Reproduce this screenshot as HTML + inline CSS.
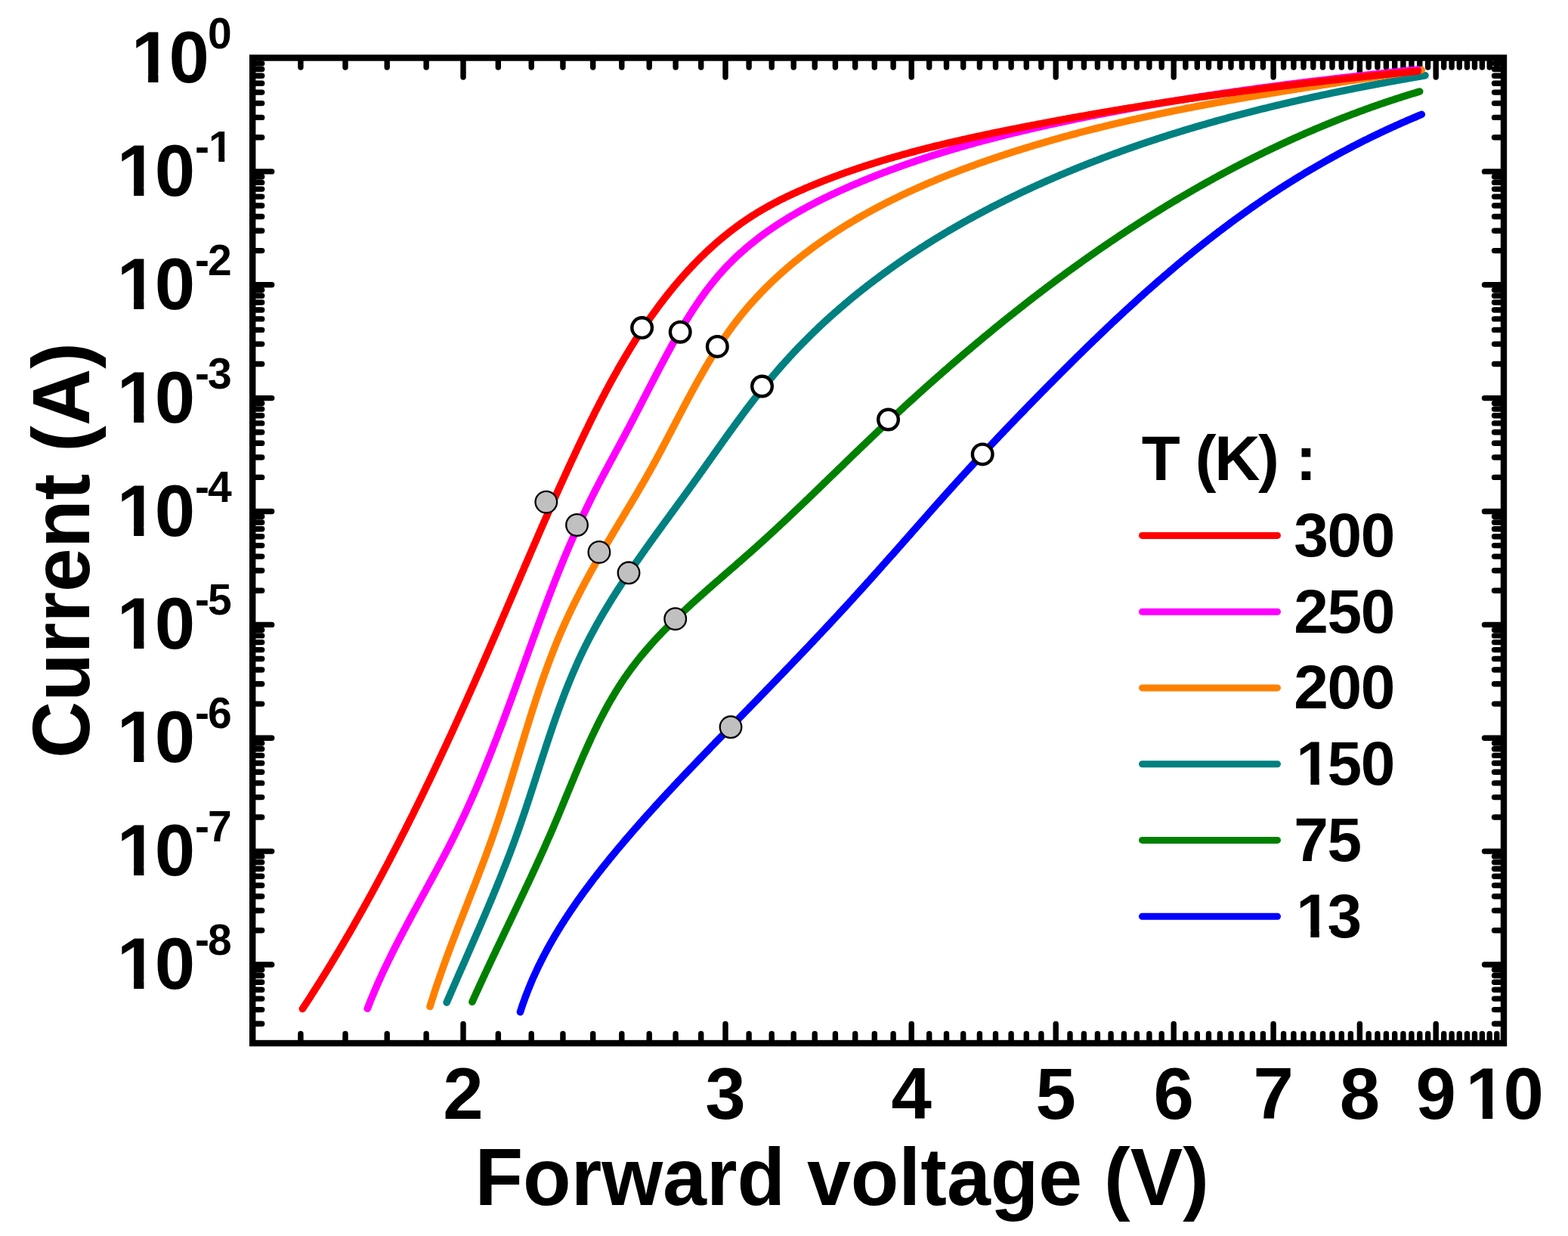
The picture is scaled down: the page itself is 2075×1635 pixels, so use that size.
<!DOCTYPE html>
<html><head><meta charset="utf-8"><title>Forward voltage vs current</title>
<style>html,body{margin:0;padding:0;background:#fff;overflow:hidden}svg{display:block}</style>
</head><body>
<svg xmlns="http://www.w3.org/2000/svg" width="2075" height="1635" viewBox="0 0 2075 1635">
<defs><clipPath id="c0"><path clip-rule="evenodd" d="M-26.3 -191.0H523.6V209.0H-26.3ZM170.7 97.0H196.1V112.0H170.7ZM209.4 97.0H227.5V112.0H209.4Z"/></clipPath><clipPath id="c1"><path clip-rule="evenodd" d="M-45.3 -41.1H504.7V358.9H-45.3ZM151.7 246.9H177.1V261.9H151.7ZM190.4 246.9H208.5V261.9H190.4Z"/></clipPath><clipPath id="c2"><path clip-rule="evenodd" d="M58.0 -86.1H576.0V313.9H58.0ZM273.0 206.7H289.3V216.9H273.0ZM297.2 206.7H308.0V216.9H297.2Z"/></clipPath><clipPath id="c3"><path clip-rule="evenodd" d="M-45.3 108.7H504.7V508.7H-45.3ZM151.7 396.7H177.1V411.7H151.7ZM190.4 396.7H208.5V411.7H190.4Z"/></clipPath><clipPath id="c4"><path clip-rule="evenodd" d="M-45.3 258.6H504.7V658.6H-45.3ZM151.7 546.6H177.1V561.6H151.7ZM190.4 546.6H208.5V561.6H190.4Z"/></clipPath><clipPath id="c5"><path clip-rule="evenodd" d="M-45.3 408.5H504.7V808.5H-45.3ZM151.7 696.5H177.1V711.5H151.7ZM190.4 696.5H208.5V711.5H190.4Z"/></clipPath><clipPath id="c6"><path clip-rule="evenodd" d="M-45.3 558.4H504.7V958.4H-45.3ZM151.7 846.4H177.1V861.4H151.7ZM190.4 846.4H208.5V861.4H190.4Z"/></clipPath><clipPath id="c7"><path clip-rule="evenodd" d="M-45.3 708.2H504.7V1108.2H-45.3ZM151.7 996.2H177.1V1011.2H151.7ZM190.4 996.2H208.5V1011.2H190.4Z"/></clipPath><clipPath id="c8"><path clip-rule="evenodd" d="M-45.3 858.1H504.7V1258.1H-45.3ZM151.7 1146.1H177.1V1161.1H151.7ZM190.4 1146.1H208.5V1161.1H190.4Z"/></clipPath><clipPath id="c9"><path clip-rule="evenodd" d="M-45.3 1008.0H504.7V1408.0H-45.3ZM151.7 1296.0H177.1V1311.0H151.7ZM190.4 1296.0H208.5V1311.0H190.4Z"/></clipPath><clipPath id="c10"><path clip-rule="evenodd" d="M1739.5 1180.0H2289.4V1580.0H1739.5ZM1936.5 1468.0H1961.9V1483.0H1936.5ZM1975.2 1468.0H1993.2V1483.0H1975.2Z"/></clipPath><clipPath id="c11"><path clip-rule="evenodd" d="M1515.3 738.0H2100.7V1138.0H1515.3ZM1712.3 1027.7H1734.4V1041.0H1712.3ZM1745.8 1027.7H1761.2V1041.0H1745.8Z"/></clipPath><clipPath id="c12"><path clip-rule="evenodd" d="M1515.3 939.5H2056.5V1339.5H1515.3ZM1712.3 1229.2H1734.4V1242.5H1712.3ZM1745.8 1229.2H1761.2V1242.5H1745.8Z"/></clipPath></defs>
<rect width="2075" height="1635" fill="#fff"/>
<path fill="none" stroke="#000" stroke-width="7.4" stroke-linecap="round" d="M397.9 1380.0V1367.5M397.9 76.5V89.0M457.0 1380.0V1367.5M457.0 76.5V89.0M512.2 1380.0V1367.5M512.2 76.5V89.0M564.1 1380.0V1367.5M564.1 76.5V89.0M613.0 1380.0V1354.5M613.0 76.5V102.0M659.3 1380.0V1367.5M659.3 76.5V89.0M703.2 1380.0V1367.5M703.2 76.5V89.0M744.9 1380.0V1367.5M744.9 76.5V89.0M784.7 1380.0V1367.5M784.7 76.5V89.0M822.8 1380.0V1367.5M822.8 76.5V89.0M859.2 1380.0V1367.5M859.2 76.5V89.0M894.1 1380.0V1367.5M894.1 76.5V89.0M927.7 1380.0V1367.5M927.7 76.5V89.0M960.0 1380.0V1354.5M960.0 76.5V102.0M991.1 1380.0V1367.5M991.1 76.5V89.0M1021.2 1380.0V1367.5M1021.2 76.5V89.0M1050.2 1380.0V1367.5M1050.2 76.5V89.0M1078.2 1380.0V1367.5M1078.2 76.5V89.0M1105.4 1380.0V1367.5M1105.4 76.5V89.0M1131.7 1380.0V1367.5M1131.7 76.5V89.0M1157.3 1380.0V1367.5M1157.3 76.5V89.0M1182.1 1380.0V1367.5M1182.1 76.5V89.0M1206.2 1380.0V1354.5M1206.2 76.5V102.0M1229.7 1380.0V1367.5M1229.7 76.5V89.0M1252.5 1380.0V1367.5M1252.5 76.5V89.0M1274.7 1380.0V1367.5M1274.7 76.5V89.0M1296.4 1380.0V1367.5M1296.4 76.5V89.0M1317.5 1380.0V1367.5M1317.5 76.5V89.0M1338.1 1380.0V1367.5M1338.1 76.5V89.0M1358.3 1380.0V1367.5M1358.3 76.5V89.0M1377.9 1380.0V1367.5M1377.9 76.5V89.0M1397.2 1380.0V1354.5M1397.2 76.5V102.0M1416.0 1380.0V1367.5M1416.0 76.5V89.0M1434.4 1380.0V1367.5M1434.4 76.5V89.0M1452.4 1380.0V1367.5M1452.4 76.5V89.0M1470.1 1380.0V1367.5M1470.1 76.5V89.0M1487.4 1380.0V1367.5M1487.4 76.5V89.0M1504.3 1380.0V1367.5M1504.3 76.5V89.0M1520.9 1380.0V1367.5M1520.9 76.5V89.0M1537.2 1380.0V1367.5M1537.2 76.5V89.0M1553.2 1380.0V1354.5M1553.2 76.5V102.0M1568.9 1380.0V1367.5M1568.9 76.5V89.0M1584.3 1380.0V1367.5M1584.3 76.5V89.0M1599.5 1380.0V1367.5M1599.5 76.5V89.0M1614.4 1380.0V1367.5M1614.4 76.5V89.0M1629.0 1380.0V1367.5M1629.0 76.5V89.0M1643.4 1380.0V1367.5M1643.4 76.5V89.0M1657.5 1380.0V1367.5M1657.5 76.5V89.0M1671.4 1380.0V1367.5M1671.4 76.5V89.0M1685.1 1380.0V1354.5M1685.1 76.5V102.0M1698.6 1380.0V1367.5M1698.6 76.5V89.0M1711.9 1380.0V1367.5M1711.9 76.5V89.0M1725.0 1380.0V1367.5M1725.0 76.5V89.0M1737.8 1380.0V1367.5M1737.8 76.5V89.0M1750.5 1380.0V1367.5M1750.5 76.5V89.0M1763.0 1380.0V1367.5M1763.0 76.5V89.0M1775.3 1380.0V1367.5M1775.3 76.5V89.0M1787.4 1380.0V1367.5M1787.4 76.5V89.0M1799.4 1380.0V1354.5M1799.4 76.5V102.0M1811.2 1380.0V1367.5M1811.2 76.5V89.0M1822.9 1380.0V1367.5M1822.9 76.5V89.0M1834.4 1380.0V1367.5M1834.4 76.5V89.0M1845.7 1380.0V1367.5M1845.7 76.5V89.0M1856.9 1380.0V1367.5M1856.9 76.5V89.0M1867.9 1380.0V1367.5M1867.9 76.5V89.0M1878.8 1380.0V1367.5M1878.8 76.5V89.0M1889.6 1380.0V1367.5M1889.6 76.5V89.0M1900.2 1380.0V1354.5M1900.2 76.5V102.0M1910.7 1380.0V1367.5M1910.7 76.5V89.0M1921.1 1380.0V1367.5M1921.1 76.5V89.0M1931.3 1380.0V1367.5M1931.3 76.5V89.0M1941.5 1380.0V1367.5M1941.5 76.5V89.0M1951.5 1380.0V1367.5M1951.5 76.5V89.0M1961.4 1380.0V1367.5M1961.4 76.5V89.0M1971.2 1380.0V1367.5M1971.2 76.5V89.0M1980.8 1380.0V1367.5M1980.8 76.5V89.0M334.2 1354.3H346.7M1990.0 1354.3H1977.5M334.2 1335.6H346.7M1990.0 1335.6H1977.5M334.2 1321.1H346.7M1990.0 1321.1H1977.5M334.2 1309.2H346.7M1990.0 1309.2H1977.5M334.2 1299.2H346.7M1990.0 1299.2H1977.5M334.2 1290.5H346.7M1990.0 1290.5H1977.5M334.2 1282.8H346.7M1990.0 1282.8H1977.5M334.2 1276.0H359.7M1990.0 1276.0H1964.5M334.2 1230.8H346.7M1990.0 1230.8H1977.5M334.2 1204.5H346.7M1990.0 1204.5H1977.5M334.2 1185.7H346.7M1990.0 1185.7H1977.5M334.2 1171.2H346.7M1990.0 1171.2H1977.5M334.2 1159.3H346.7M1990.0 1159.3H1977.5M334.2 1149.3H346.7M1990.0 1149.3H1977.5M334.2 1140.6H346.7M1990.0 1140.6H1977.5M334.2 1132.9H346.7M1990.0 1132.9H1977.5M334.2 1126.1H359.7M1990.0 1126.1H1964.5M334.2 1081.0H346.7M1990.0 1081.0H1977.5M334.2 1054.6H346.7M1990.0 1054.6H1977.5M334.2 1035.9H346.7M1990.0 1035.9H1977.5M334.2 1021.3H346.7M1990.0 1021.3H1977.5M334.2 1009.5H346.7M1990.0 1009.5H1977.5M334.2 999.4H346.7M1990.0 999.4H1977.5M334.2 990.7H346.7M1990.0 990.7H1977.5M334.2 983.1H346.7M1990.0 983.1H1977.5M334.2 976.2H359.7M1990.0 976.2H1964.5M334.2 931.1H346.7M1990.0 931.1H1977.5M334.2 904.7H346.7M1990.0 904.7H1977.5M334.2 886.0H346.7M1990.0 886.0H1977.5M334.2 871.5H346.7M1990.0 871.5H1977.5M334.2 859.6H346.7M1990.0 859.6H1977.5M334.2 849.6H346.7M1990.0 849.6H1977.5M334.2 840.9H346.7M1990.0 840.9H1977.5M334.2 833.2H346.7M1990.0 833.2H1977.5M334.2 826.4H359.7M1990.0 826.4H1964.5M334.2 781.2H346.7M1990.0 781.2H1977.5M334.2 754.8H346.7M1990.0 754.8H1977.5M334.2 736.1H346.7M1990.0 736.1H1977.5M334.2 721.6H346.7M1990.0 721.6H1977.5M334.2 709.7H346.7M1990.0 709.7H1977.5M334.2 699.7H346.7M1990.0 699.7H1977.5M334.2 691.0H346.7M1990.0 691.0H1977.5M334.2 683.3H346.7M1990.0 683.3H1977.5M334.2 676.5H359.7M1990.0 676.5H1964.5M334.2 631.4H346.7M1990.0 631.4H1977.5M334.2 605.0H346.7M1990.0 605.0H1977.5M334.2 586.2H346.7M1990.0 586.2H1977.5M334.2 571.7H346.7M1990.0 571.7H1977.5M334.2 559.9H346.7M1990.0 559.9H1977.5M334.2 549.8H346.7M1990.0 549.8H1977.5M334.2 541.1H346.7M1990.0 541.1H1977.5M334.2 533.5H346.7M1990.0 533.5H1977.5M334.2 526.6H359.7M1990.0 526.6H1964.5M334.2 481.5H346.7M1990.0 481.5H1977.5M334.2 455.1H346.7M1990.0 455.1H1977.5M334.2 436.4H346.7M1990.0 436.4H1977.5M334.2 421.9H346.7M1990.0 421.9H1977.5M334.2 410.0H346.7M1990.0 410.0H1977.5M334.2 400.0H346.7M1990.0 400.0H1977.5M334.2 391.3H346.7M1990.0 391.3H1977.5M334.2 383.6H346.7M1990.0 383.6H1977.5M334.2 376.7H359.7M1990.0 376.7H1964.5M334.2 331.6H346.7M1990.0 331.6H1977.5M334.2 305.2H346.7M1990.0 305.2H1977.5M334.2 286.5H346.7M1990.0 286.5H1977.5M334.2 272.0H346.7M1990.0 272.0H1977.5M334.2 260.1H346.7M1990.0 260.1H1977.5M334.2 250.1H346.7M1990.0 250.1H1977.5M334.2 241.4H346.7M1990.0 241.4H1977.5M334.2 233.7H346.7M1990.0 233.7H1977.5M334.2 226.9H359.7M1990.0 226.9H1964.5M334.2 181.8H346.7M1990.0 181.8H1977.5M334.2 155.4H346.7M1990.0 155.4H1977.5M334.2 136.6H346.7M1990.0 136.6H1977.5M334.2 122.1H346.7M1990.0 122.1H1977.5M334.2 110.2H346.7M1990.0 110.2H1977.5M334.2 100.2H346.7M1990.0 100.2H1977.5M334.2 91.5H346.7M1990.0 91.5H1977.5M334.2 83.9H346.7M1990.0 83.9H1977.5"/>
<rect x="334.2" y="76.5" width="1655.8" height="1303.5" fill="none" stroke="#000" stroke-width="8.4" stroke-linejoin="miter"/>
<g fill="none" stroke-width="9.6" stroke-linecap="round" stroke-linejoin="round">
<path stroke="#0000FF" d="M688.5 1338.7L689.1 1336.7L689.7 1334.8L690.3 1332.9L691.0 1330.9L691.6 1329.0L692.3 1327.1L693.0 1325.2L693.7 1323.3L694.4 1321.4L695.0 1319.5L695.8 1317.6L696.5 1315.7L697.2 1313.8L697.9 1311.9L698.7 1310.1L699.4 1308.2L700.2 1306.3L700.9 1304.5L701.7 1302.6L702.5 1300.8L703.2 1298.9L704.0 1297.1L704.8 1295.2L705.6 1293.4L706.4 1291.6L707.3 1289.7L708.1 1287.9L708.9 1286.1L709.8 1284.3L710.6 1282.5L711.5 1280.7L712.3 1278.8L713.2 1277.0L714.1 1275.3L715.0 1273.5L715.9 1271.7L716.8 1269.9L717.7 1268.1L718.6 1266.3L719.5 1264.6L720.4 1262.8L721.4 1261.0L722.3 1259.3L723.2 1257.5L724.2 1255.8L725.1 1254.0L726.1 1252.3L727.1 1250.5L728.0 1248.8L729.0 1247.1L730.0 1245.3L731.0 1243.6L732.0 1241.9L733.0 1240.2L734.0 1238.4L735.0 1236.7L736.0 1235.0L737.1 1233.3L738.1 1231.6L739.1 1229.9L740.2 1228.2L741.2 1226.5L742.3 1224.8L743.3 1223.1L744.4 1221.4L745.5 1219.8L746.6 1218.1L747.6 1216.4L748.7 1214.7L749.8 1213.1L750.9 1211.4L752.0 1209.7L753.1 1208.1L754.2 1206.4L755.3 1204.8L756.4 1203.1L757.6 1201.5L758.7 1199.8L759.8 1198.2L761.0 1196.5L762.1 1194.9L763.2 1193.3L764.4 1191.6L765.5 1190.0L766.7 1188.4L767.9 1186.8L769.0 1185.1L770.2 1183.5L771.4 1181.9L772.5 1180.3L773.7 1178.7L774.9 1177.1L776.1 1175.5L777.3 1173.9L778.5 1172.3L779.7 1170.7L780.9 1169.1L782.1 1167.5L783.3 1165.9L784.5 1164.3L785.7 1162.7L786.9 1161.1L788.2 1159.6L789.4 1158.0L790.6 1156.4L791.9 1154.8L793.1 1153.3L794.3 1151.7L795.6 1150.1L796.8 1148.5L798.0 1147.0L799.3 1145.4L800.5 1143.9L801.8 1142.3L803.1 1140.7L804.3 1139.2L805.6 1137.6L806.8 1136.1L808.1 1134.5L809.4 1133.0L810.6 1131.4L811.9 1129.9L813.2 1128.4L814.5 1126.8L815.7 1125.3L817.0 1123.7L818.3 1122.2L819.6 1120.7L820.9 1119.1L822.2 1117.6L823.5 1116.1L824.8 1114.5L826.0 1113.0L827.3 1111.5L828.6 1110.0L829.9 1108.5L831.3 1106.9L832.6 1105.4L833.9 1103.9L835.2 1102.4L836.5 1100.9L837.8 1099.4L839.1 1097.8L840.4 1096.3L841.8 1094.8L843.1 1093.3L844.4 1091.8L845.7 1090.3L847.0 1088.8L848.4 1087.3L849.7 1085.8L851.0 1084.3L852.4 1082.8L853.7 1081.3L855.0 1079.8L856.4 1078.3L857.7 1076.8L859.1 1075.4L860.4 1073.9L861.7 1072.4L863.1 1070.9L864.4 1069.4L865.8 1067.9L867.1 1066.4L868.5 1065.0L869.8 1063.5L871.2 1062.0L872.5 1060.5L873.9 1059.0L875.2 1057.6L876.6 1056.1L878.0 1054.6L879.3 1053.1L880.7 1051.7L882.1 1050.2L883.4 1048.7L884.8 1047.3L886.2 1045.8L887.5 1044.3L888.9 1042.9L890.3 1041.4L891.6 1039.9L893.0 1038.5L894.4 1037.0L895.8 1035.5L897.1 1034.1L898.5 1032.6L899.9 1031.2L901.3 1029.7L902.6 1028.3L904.0 1026.8L905.4 1025.3L906.8 1023.9L908.2 1022.4L909.5 1021.0L910.9 1019.5L912.3 1018.1L913.7 1016.6L915.1 1015.2L916.5 1013.7L917.9 1012.3L919.3 1010.8L920.6 1009.4L922.0 1007.9L923.4 1006.5L924.8 1005.0L926.2 1003.6L927.6 1002.1L929.0 1000.7L930.4 999.2L931.8 997.8L933.2 996.3L934.6 994.9L936.0 993.5L937.4 992.0L938.8 990.6L940.1 989.1L941.5 987.7L942.9 986.2L944.3 984.8L945.7 983.4L947.1 981.9L948.5 980.5L949.9 979.0L951.3 977.6L952.7 976.2L954.1 974.7L955.5 973.3L956.9 971.9L958.3 970.4L959.7 969.0L961.1 967.5L962.5 966.1L963.9 964.7L965.3 963.2L966.7 961.8L968.1 960.3L969.5 958.9L970.9 957.5L972.3 956.0L973.7 954.6L975.1 953.2L976.5 951.7L977.9 950.3L979.3 948.8L980.7 947.4L982.1 946.0L983.5 944.5L984.9 943.1L986.3 941.7L987.7 940.2L989.1 938.8L990.5 937.4L991.9 935.9L993.3 934.5L994.7 933.0L996.1 931.6L997.5 930.2L998.9 928.7L1000.3 927.3L1001.7 925.9L1003.1 924.4L1004.5 923.0L1005.9 921.5L1007.2 920.1L1008.6 918.7L1010.0 917.2L1011.4 915.8L1012.8 914.4L1014.2 912.9L1015.6 911.5L1017.0 910.0L1018.4 908.6L1019.8 907.2L1021.2 905.7L1022.6 904.3L1024.0 902.8L1025.4 901.4L1026.8 900.0L1028.1 898.5L1029.5 897.1L1030.9 895.6L1032.3 894.2L1033.7 892.8L1035.1 891.3L1036.5 889.9L1037.9 888.4L1039.3 887.0L1040.6 885.5L1042.0 884.1L1043.4 882.7L1044.8 881.2L1046.2 879.8L1047.6 878.3L1049.0 876.9L1050.3 875.4L1051.7 874.0L1053.1 872.5L1054.5 871.1L1055.9 869.7L1057.3 868.2L1058.6 866.8L1060.0 865.3L1061.4 863.9L1062.8 862.4L1064.2 861.0L1065.5 859.5L1066.9 858.1L1068.3 856.6L1069.7 855.2L1071.1 853.7L1072.4 852.3L1073.8 850.8L1075.2 849.4L1076.6 847.9L1077.9 846.5L1079.3 845.0L1080.7 843.5L1082.1 842.1L1083.4 840.6L1084.8 839.2L1086.2 837.7L1087.5 836.3L1088.9 834.8L1090.3 833.3L1091.6 831.9L1093.0 830.4L1094.4 829.0L1095.7 827.5L1097.1 826.1L1098.5 824.6L1099.8 823.1L1101.2 821.7L1102.6 820.2L1103.9 818.7L1105.3 817.3L1106.6 815.8L1108.0 814.3L1109.4 812.9L1110.7 811.4L1112.1 809.9L1113.4 808.5L1114.8 807.0L1116.1 805.5L1117.5 804.1L1118.9 802.6L1120.2 801.1L1121.6 799.6L1122.9 798.2L1124.3 796.7L1125.6 795.2L1127.0 793.7L1128.3 792.3L1129.6 790.8L1131.0 789.3L1132.3 787.8L1133.7 786.4L1135.0 784.9L1136.4 783.4L1137.7 781.9L1139.1 780.4L1140.4 779.0L1141.7 777.5L1143.1 776.0L1144.4 774.5L1145.8 773.0L1147.1 771.5L1148.4 770.0L1149.8 768.6L1151.1 767.1L1152.4 765.6L1153.8 764.1L1155.1 762.6L1156.4 761.1L1157.8 759.6L1159.1 758.1L1160.4 756.7L1161.8 755.2L1163.1 753.7L1164.4 752.2L1165.8 750.7L1167.1 749.2L1168.4 747.7L1169.7 746.2L1171.1 744.7L1172.4 743.2L1173.7 741.7L1175.1 740.2L1176.4 738.7L1177.7 737.2L1179.0 735.8L1180.4 734.3L1181.7 732.8L1183.0 731.3L1184.3 729.8L1185.7 728.3L1187.0 726.8L1188.3 725.3L1189.6 723.8L1191.0 722.3L1192.3 720.8L1193.6 719.3L1194.9 717.8L1196.2 716.3L1197.6 714.8L1198.9 713.3L1200.2 711.8L1201.5 710.3L1202.9 708.8L1204.2 707.3L1205.5 705.8L1206.8 704.3L1208.1 702.8L1209.5 701.3L1210.8 699.8L1212.1 698.3L1213.4 696.8L1214.8 695.3L1216.1 693.8L1217.4 692.3L1218.7 690.8L1220.0 689.3L1221.4 687.9L1222.7 686.4L1224.0 684.9L1225.3 683.4L1226.7 681.9L1228.0 680.4L1229.3 678.9L1230.6 677.4L1232.0 675.9L1233.3 674.4L1234.6 672.9L1235.9 671.4L1237.3 669.9L1238.6 668.4L1239.9 666.9L1241.2 665.4L1242.6 664.0L1243.9 662.5L1245.2 661.0L1246.6 659.5L1247.9 658.0L1249.2 656.5L1250.5 655.0L1251.9 653.5L1253.2 652.0L1254.5 650.6L1255.9 649.1L1257.2 647.6L1258.5 646.1L1259.9 644.6L1261.2 643.1L1262.6 641.7L1263.9 640.2L1265.2 638.7L1266.6 637.2L1267.9 635.7L1269.3 634.3L1270.6 632.8L1271.9 631.3L1273.3 629.8L1274.6 628.4L1276.0 626.9L1277.3 625.4L1278.7 623.9L1280.0 622.5L1281.4 621.0L1282.7 619.5L1284.1 618.1L1285.4 616.6L1286.8 615.1L1288.1 613.7L1289.5 612.2L1290.8 610.7L1292.2 609.3L1293.6 607.8L1294.9 606.3L1296.3 604.9L1297.6 603.4L1299.0 601.9L1300.4 600.5L1301.7 599.0L1303.1 597.6L1304.4 596.1L1305.8 594.6L1307.2 593.2L1308.5 591.7L1309.9 590.3L1311.3 588.8L1312.6 587.4L1314.0 585.9L1315.4 584.5L1316.8 583.0L1318.1 581.6L1319.5 580.1L1320.9 578.7L1322.2 577.2L1323.6 575.8L1325.0 574.3L1326.4 572.9L1327.8 571.4L1329.1 570.0L1330.5 568.5L1331.9 567.1L1333.3 565.6L1334.6 564.2L1336.0 562.8L1337.4 561.3L1338.8 559.9L1340.2 558.4L1341.6 557.0L1343.0 555.6L1344.3 554.1L1345.7 552.7L1347.1 551.2L1348.5 549.8L1349.9 548.4L1351.3 546.9L1352.7 545.5L1354.1 544.1L1355.5 542.6L1356.8 541.2L1358.2 539.8L1359.6 538.3L1361.0 536.9L1362.4 535.5L1363.8 534.0L1365.2 532.6L1366.6 531.2L1368.0 529.7L1369.4 528.3L1370.8 526.9L1372.2 525.5L1373.6 524.0L1375.0 522.6L1376.4 521.2L1377.8 519.8L1379.2 518.3L1380.6 516.9L1382.0 515.5L1383.4 514.1L1384.8 512.6L1386.2 511.2L1387.6 509.8L1389.0 508.4L1390.4 506.9L1391.9 505.5L1393.3 504.1L1394.7 502.7L1396.1 501.3L1397.5 499.8L1398.9 498.4L1400.3 497.0L1401.7 495.6L1403.1 494.2L1404.6 492.8L1406.0 491.3L1407.4 489.9L1408.8 488.5L1410.2 487.1L1411.6 485.7L1413.1 484.3L1414.5 482.9L1415.9 481.5L1417.3 480.0L1418.7 478.6L1420.2 477.2L1421.6 475.8L1423.0 474.4L1424.4 473.0L1425.9 471.6L1427.3 470.2L1428.7 468.8L1430.1 467.4L1431.6 466.0L1433.0 464.6L1434.4 463.2L1435.9 461.8L1437.3 460.4L1438.7 459.0L1440.2 457.6L1441.6 456.2L1443.0 454.8L1444.5 453.4L1445.9 452.0L1447.3 450.6L1448.8 449.2L1450.2 447.9L1451.7 446.5L1453.1 445.1L1454.6 443.7L1456.0 442.3L1457.5 440.9L1458.9 439.5L1460.3 438.2L1461.8 436.8L1463.2 435.4L1464.7 434.0L1466.2 432.6L1467.6 431.3L1469.1 429.9L1470.5 428.5L1472.0 427.1L1473.4 425.8L1474.9 424.4L1476.3 423.0L1477.8 421.7L1479.3 420.3L1480.7 418.9L1482.2 417.6L1483.7 416.2L1485.1 414.8L1486.6 413.5L1488.1 412.1L1489.5 410.8L1491.0 409.4L1492.5 408.1L1494.0 406.7L1495.4 405.4L1496.9 404.0L1498.4 402.7L1499.9 401.3L1501.4 400.0L1502.8 398.6L1504.3 397.3L1505.8 395.9L1507.3 394.6L1508.8 393.2L1510.3 391.9L1511.8 390.6L1513.2 389.2L1514.7 387.9L1516.2 386.6L1517.7 385.2L1519.2 383.9L1520.7 382.6L1522.2 381.3L1523.7 379.9L1525.2 378.6L1526.7 377.3L1528.2 376.0L1529.7 374.7L1531.2 373.3L1532.7 372.0L1534.3 370.7L1535.8 369.4L1537.3 368.1L1538.8 366.8L1540.3 365.5L1541.8 364.2L1543.4 362.9L1544.9 361.6L1546.4 360.3L1547.9 359.0L1549.4 357.7L1551.0 356.4L1552.5 355.1L1554.0 353.8L1555.6 352.5L1557.1 351.2L1558.6 349.9L1560.2 348.7L1561.7 347.4L1563.2 346.1L1564.8 344.8L1566.3 343.5L1567.9 342.3L1569.4 341.0L1570.9 339.7L1572.5 338.5L1574.0 337.2L1575.6 335.9L1577.1 334.7L1578.7 333.4L1580.3 332.1L1581.8 330.9L1583.4 329.6L1584.9 328.4L1586.5 327.1L1588.1 325.9L1589.6 324.6L1591.2 323.4L1592.8 322.2L1594.3 320.9L1595.9 319.7L1597.5 318.5L1599.0 317.2L1600.6 316.0L1602.2 314.8L1603.8 313.5L1605.4 312.3L1606.9 311.1L1608.5 309.9L1610.1 308.7L1611.7 307.4L1613.3 306.2L1614.9 305.0L1616.5 303.8L1618.1 302.6L1619.7 301.4L1621.3 300.2L1622.9 299.0L1624.5 297.8L1626.1 296.6L1627.7 295.4L1629.3 294.2L1630.9 293.0L1632.5 291.9L1634.1 290.7L1635.7 289.5L1637.3 288.3L1639.0 287.1L1640.6 286.0L1642.2 284.8L1643.8 283.6L1645.4 282.5L1647.1 281.3L1648.7 280.1L1650.3 279.0L1652.0 277.8L1653.6 276.7L1655.2 275.5L1656.9 274.4L1658.5 273.2L1660.1 272.1L1661.8 271.0L1663.4 269.8L1665.1 268.7L1666.7 267.6L1668.4 266.4L1670.0 265.3L1671.7 264.2L1673.3 263.1L1675.0 261.9L1676.7 260.8L1678.3 259.7L1680.0 258.6L1681.6 257.5L1683.3 256.4L1685.0 255.3L1686.6 254.2L1688.3 253.1L1690.0 252.0L1691.7 250.9L1693.4 249.8L1695.0 248.7L1696.7 247.7L1698.4 246.6L1700.1 245.5L1701.8 244.4L1703.5 243.4L1705.2 242.3L1706.9 241.2L1708.5 240.2L1710.2 239.1L1711.9 238.1L1713.6 237.0L1715.4 236.0L1717.1 234.9L1718.8 233.9L1720.5 232.8L1722.2 231.8L1723.9 230.8L1725.6 229.7L1727.3 228.7L1729.0 227.7L1730.8 226.6L1732.5 225.6L1734.2 224.6L1735.9 223.6L1737.7 222.6L1739.4 221.6L1741.1 220.6L1742.9 219.6L1744.6 218.6L1746.3 217.6L1748.1 216.6L1749.8 215.6L1751.6 214.6L1753.3 213.6L1755.1 212.6L1756.8 211.6L1758.6 210.7L1760.3 209.7L1762.1 208.7L1763.8 207.8L1765.6 206.8L1767.3 205.8L1769.1 204.9L1770.8 203.9L1772.6 203.0L1774.4 202.0L1776.1 201.1L1777.9 200.1L1779.7 199.2L1781.5 198.3L1783.2 197.3L1785.0 196.4L1786.8 195.5L1788.6 194.5L1790.3 193.6L1792.1 192.7L1793.9 191.8L1795.7 190.9L1797.5 190.0L1799.3 189.0L1801.1 188.1L1802.8 187.2L1804.6 186.3L1806.4 185.4L1808.2 184.6L1810.0 183.7L1811.8 182.8L1813.6 181.9L1815.4 181.0L1817.2 180.1L1819.0 179.3L1820.9 178.4L1822.7 177.5L1824.5 176.7L1826.3 175.8L1828.1 174.9L1829.9 174.1L1831.7 173.2L1833.6 172.4L1835.4 171.5L1837.2 170.7L1839.0 169.9L1840.8 169.0L1842.7 168.2L1844.5 167.4L1846.3 166.5L1848.2 165.7L1850.0 164.9L1851.8 164.1L1853.7 163.2L1855.5 162.4L1857.3 161.6L1859.2 160.8L1861.0 160.0L1862.8 159.2L1864.7 158.4L1866.5 157.6L1868.4 156.8L1870.2 156.0L1872.1 155.3L1873.9 154.5L1875.8 153.7L1877.6 152.9L1879.5 152.1L1881.3 151.4"/>
<path stroke="#008000" d="M624.9 1325.3L625.8 1323.4L626.6 1321.6L627.4 1319.8L628.2 1317.9L629.1 1316.1L629.9 1314.3L630.7 1312.4L631.6 1310.6L632.4 1308.8L633.2 1307.0L634.1 1305.1L634.9 1303.3L635.7 1301.5L636.6 1299.7L637.4 1297.8L638.3 1296.0L639.1 1294.2L639.9 1292.4L640.8 1290.6L641.6 1288.7L642.5 1286.9L643.3 1285.1L644.2 1283.3L645.0 1281.5L645.9 1279.7L646.7 1277.9L647.6 1276.1L648.4 1274.2L649.3 1272.4L650.1 1270.6L651.0 1268.8L651.8 1267.0L652.7 1265.2L653.5 1263.4L654.4 1261.6L655.3 1259.8L656.1 1258.0L657.0 1256.2L657.8 1254.4L658.7 1252.6L659.5 1250.8L660.4 1249.0L661.3 1247.2L662.1 1245.4L663.0 1243.6L663.8 1241.8L664.7 1240.0L665.6 1238.2L666.4 1236.4L667.3 1234.6L668.1 1232.8L669.0 1231.0L669.9 1229.2L670.7 1227.4L671.6 1225.6L672.4 1223.8L673.3 1222.0L674.2 1220.2L675.0 1218.4L675.9 1216.6L676.7 1214.8L677.6 1213.0L678.5 1211.2L679.3 1209.4L680.2 1207.6L681.0 1205.8L681.9 1204.0L682.8 1202.2L683.6 1200.4L684.5 1198.6L685.3 1196.8L686.2 1195.0L687.1 1193.2L687.9 1191.4L688.8 1189.6L689.6 1187.8L690.5 1186.0L691.3 1184.2L692.2 1182.4L693.0 1180.6L693.9 1178.8L694.7 1177.0L695.6 1175.2L696.4 1173.4L697.3 1171.6L698.1 1169.8L699.0 1168.0L699.8 1166.2L700.7 1164.4L701.5 1162.6L702.4 1160.8L703.2 1158.9L704.1 1157.1L704.9 1155.3L705.7 1153.5L706.6 1151.7L707.4 1149.9L708.3 1148.1L709.1 1146.3L709.9 1144.4L710.8 1142.6L711.6 1140.8L712.4 1139.0L713.3 1137.2L714.1 1135.3L714.9 1133.5L715.7 1131.7L716.6 1129.9L717.4 1128.0L718.2 1126.2L719.0 1124.4L719.9 1122.6L720.7 1120.7L721.5 1118.9L722.3 1117.1L723.1 1115.2L723.9 1113.4L724.7 1111.6L725.5 1109.7L726.4 1107.9L727.2 1106.0L728.0 1104.2L728.8 1102.4L729.6 1100.5L730.4 1098.7L731.2 1096.8L732.0 1095.0L732.8 1093.1L733.5 1091.3L734.3 1089.4L735.1 1087.6L735.9 1085.7L736.7 1083.8L737.5 1082.0L738.3 1080.1L739.0 1078.3L739.8 1076.4L740.6 1074.5L741.4 1072.7L742.1 1070.8L742.9 1068.9L743.7 1067.1L744.5 1065.2L745.2 1063.3L746.0 1061.5L746.8 1059.6L747.6 1057.7L748.3 1055.8L749.1 1054.0L749.9 1052.1L750.6 1050.2L751.4 1048.4L752.2 1046.5L753.0 1044.6L753.7 1042.7L754.5 1040.9L755.3 1039.0L756.1 1037.1L756.8 1035.3L757.6 1033.4L758.4 1031.5L759.2 1029.7L759.9 1027.8L760.7 1025.9L761.5 1024.1L762.3 1022.2L763.1 1020.3L763.8 1018.5L764.6 1016.6L765.4 1014.7L766.2 1012.9L767.0 1011.0L767.8 1009.2L768.6 1007.3L769.4 1005.4L770.2 1003.6L771.0 1001.7L771.8 999.9L772.6 998.0L773.4 996.2L774.2 994.4L775.1 992.5L775.9 990.7L776.7 988.8L777.5 987.0L778.4 985.2L779.2 983.3L780.0 981.5L780.9 979.7L781.7 977.9L782.5 976.0L783.4 974.2L784.3 972.4L785.1 970.6L786.0 968.8L786.8 967.0L787.7 965.2L788.6 963.4L789.5 961.6L790.3 959.8L791.2 958.0L792.1 956.2L793.0 954.4L793.9 952.6L794.8 950.9L795.7 949.1L796.7 947.3L797.6 945.6L798.5 943.8L799.4 942.0L800.4 940.3L801.3 938.5L802.3 936.8L803.2 935.0L804.2 933.3L805.1 931.6L806.1 929.8L807.1 928.1L808.1 926.4L809.1 924.7L810.1 923.0L811.1 921.3L812.1 919.6L813.1 917.9L814.1 916.2L815.1 914.5L816.2 912.8L817.2 911.1L818.3 909.5L819.3 907.8L820.4 906.1L821.5 904.5L822.5 902.8L823.6 901.2L824.7 899.6L825.8 897.9L826.9 896.3L828.1 894.7L829.2 893.1L830.3 891.5L831.5 889.9L832.6 888.3L833.8 886.7L834.9 885.1L836.1 883.5L837.3 881.9L838.5 880.4L839.7 878.8L840.9 877.2L842.1 875.7L843.3 874.1L844.5 872.6L845.8 871.1L847.0 869.5L848.2 868.0L849.5 866.5L850.8 865.0L852.0 863.5L853.3 862.0L854.6 860.5L855.9 859.0L857.2 857.5L858.5 856.0L859.8 854.5L861.1 853.0L862.4 851.6L863.7 850.1L865.0 848.6L866.4 847.2L867.7 845.7L869.0 844.3L870.4 842.8L871.7 841.4L873.1 839.9L874.5 838.5L875.8 837.1L877.2 835.6L878.6 834.2L880.0 832.8L881.4 831.4L882.8 830.0L884.2 828.5L885.6 827.1L887.0 825.7L888.4 824.3L889.8 822.9L891.2 821.5L892.7 820.2L894.1 818.8L895.5 817.4L897.0 816.0L898.4 814.6L899.8 813.2L901.3 811.9L902.7 810.5L904.2 809.1L905.6 807.8L907.1 806.4L908.6 805.0L910.0 803.7L911.5 802.3L913.0 801.0L914.5 799.6L915.9 798.2L917.4 796.9L918.9 795.6L920.4 794.2L921.9 792.9L923.4 791.5L924.9 790.2L926.4 788.8L927.9 787.5L929.4 786.2L930.9 784.8L932.4 783.5L933.9 782.2L935.4 780.8L936.9 779.5L938.4 778.2L939.9 776.9L941.4 775.5L942.9 774.2L944.4 772.9L945.9 771.5L947.5 770.2L949.0 768.9L950.5 767.6L952.0 766.3L953.5 764.9L955.1 763.6L956.6 762.3L958.1 761.0L959.6 759.7L961.1 758.3L962.7 757.0L964.2 755.7L965.7 754.4L967.2 753.1L968.7 751.7L970.3 750.4L971.8 749.1L973.3 747.8L974.8 746.5L976.3 745.1L977.9 743.8L979.4 742.5L980.9 741.2L982.4 739.8L983.9 738.5L985.4 737.2L986.9 735.9L988.4 734.5L990.0 733.2L991.5 731.9L993.0 730.5L994.5 729.2L996.0 727.9L997.5 726.5L999.0 725.2L1000.5 723.9L1002.0 722.5L1003.5 721.2L1004.9 719.8L1006.4 718.5L1007.9 717.1L1009.4 715.8L1010.9 714.5L1012.4 713.1L1013.9 711.8L1015.3 710.4L1016.8 709.1L1018.3 707.7L1019.8 706.3L1021.2 705.0L1022.7 703.6L1024.2 702.3L1025.6 700.9L1027.1 699.6L1028.6 698.2L1030.0 696.8L1031.5 695.5L1033.0 694.1L1034.4 692.8L1035.9 691.4L1037.4 690.0L1038.8 688.7L1040.3 687.3L1041.7 685.9L1043.2 684.6L1044.6 683.2L1046.1 681.8L1047.5 680.4L1049.0 679.1L1050.4 677.7L1051.9 676.3L1053.3 674.9L1054.8 673.6L1056.2 672.2L1057.7 670.8L1059.1 669.4L1060.6 668.1L1062.0 666.7L1063.4 665.3L1064.9 663.9L1066.3 662.5L1067.8 661.2L1069.2 659.8L1070.6 658.4L1072.1 657.0L1073.5 655.6L1074.9 654.3L1076.4 652.9L1077.8 651.5L1079.3 650.1L1080.7 648.7L1082.1 647.3L1083.6 646.0L1085.0 644.6L1086.4 643.2L1087.9 641.8L1089.3 640.4L1090.7 639.0L1092.2 637.7L1093.6 636.3L1095.0 634.9L1096.4 633.5L1097.9 632.1L1099.3 630.7L1100.7 629.3L1102.2 627.9L1103.6 626.6L1105.0 625.2L1106.5 623.8L1107.9 622.4L1109.3 621.0L1110.8 619.6L1112.2 618.2L1113.6 616.9L1115.1 615.5L1116.5 614.1L1117.9 612.7L1119.3 611.3L1120.8 609.9L1122.2 608.5L1123.6 607.2L1125.1 605.8L1126.5 604.4L1127.9 603.0L1129.4 601.6L1130.8 600.2L1132.3 598.9L1133.7 597.5L1135.1 596.1L1136.6 594.7L1138.0 593.3L1139.4 592.0L1140.9 590.6L1142.3 589.2L1143.8 587.8L1145.2 586.4L1146.6 585.1L1148.1 583.7L1149.5 582.3L1151.0 580.9L1152.4 579.5L1153.8 578.2L1155.3 576.8L1156.7 575.4L1158.2 574.0L1159.6 572.7L1161.1 571.3L1162.5 569.9L1164.0 568.6L1165.4 567.2L1166.9 565.8L1168.3 564.5L1169.8 563.1L1171.3 561.7L1172.7 560.3L1174.2 559.0L1175.6 557.6L1177.1 556.3L1178.6 554.9L1180.0 553.5L1181.5 552.2L1182.9 550.8L1184.4 549.4L1185.9 548.1L1187.3 546.7L1188.8 545.4L1190.3 544.0L1191.7 542.7L1193.2 541.3L1194.7 540.0L1196.2 538.6L1197.6 537.2L1199.1 535.9L1200.6 534.5L1202.1 533.2L1203.5 531.8L1205.0 530.5L1206.5 529.2L1208.0 527.8L1209.5 526.5L1210.9 525.1L1212.4 523.8L1213.9 522.4L1215.4 521.1L1216.9 519.7L1218.4 518.4L1219.9 517.1L1221.3 515.7L1222.8 514.4L1224.3 513.1L1225.8 511.7L1227.3 510.4L1228.8 509.1L1230.3 507.7L1231.8 506.4L1233.3 505.1L1234.8 503.7L1236.3 502.4L1237.8 501.1L1239.3 499.8L1240.8 498.4L1242.3 497.1L1243.8 495.8L1245.3 494.5L1246.8 493.1L1248.3 491.8L1249.8 490.5L1251.3 489.2L1252.9 487.9L1254.4 486.5L1255.9 485.2L1257.4 483.9L1258.9 482.6L1260.4 481.3L1261.9 480.0L1263.5 478.7L1265.0 477.4L1266.5 476.1L1268.0 474.8L1269.5 473.4L1271.1 472.1L1272.6 470.8L1274.1 469.5L1275.6 468.2L1277.2 466.9L1278.7 465.6L1280.2 464.3L1281.8 463.0L1283.3 461.8L1284.8 460.5L1286.3 459.2L1287.9 457.9L1289.4 456.6L1291.0 455.3L1292.5 454.0L1294.0 452.7L1295.6 451.4L1297.1 450.2L1298.6 448.9L1300.2 447.6L1301.7 446.3L1303.3 445.0L1304.8 443.8L1306.4 442.5L1307.9 441.2L1309.5 439.9L1311.0 438.7L1312.6 437.4L1314.1 436.1L1315.7 434.8L1317.2 433.6L1318.8 432.3L1320.3 431.0L1321.9 429.8L1323.5 428.5L1325.0 427.3L1326.6 426.0L1328.1 424.7L1329.7 423.5L1331.3 422.2L1332.8 421.0L1334.4 419.7L1336.0 418.5L1337.5 417.2L1339.1 416.0L1340.7 414.7L1342.2 413.5L1343.8 412.2L1345.4 411.0L1347.0 409.7L1348.5 408.5L1350.1 407.3L1351.7 406.0L1353.3 404.8L1354.8 403.5L1356.4 402.3L1358.0 401.1L1359.6 399.8L1361.2 398.6L1362.7 397.4L1364.3 396.2L1365.9 394.9L1367.5 393.7L1369.1 392.5L1370.7 391.3L1372.3 390.0L1373.9 388.8L1375.5 387.6L1377.1 386.4L1378.7 385.2L1380.3 384.0L1381.8 382.8L1383.4 381.6L1385.0 380.3L1386.6 379.1L1388.3 377.9L1389.9 376.7L1391.5 375.5L1393.1 374.3L1394.7 373.1L1396.3 371.9L1397.9 370.7L1399.5 369.5L1401.1 368.4L1402.7 367.2L1404.3 366.0L1405.9 364.8L1407.6 363.6L1409.2 362.4L1410.8 361.2L1412.4 360.0L1414.0 358.9L1415.7 357.7L1417.3 356.5L1418.9 355.3L1420.5 354.2L1422.1 353.0L1423.8 351.8L1425.4 350.7L1427.0 349.5L1428.7 348.3L1430.3 347.2L1431.9 346.0L1433.5 344.8L1435.2 343.7L1436.8 342.5L1438.5 341.4L1440.1 340.2L1441.7 339.1L1443.4 337.9L1445.0 336.8L1446.7 335.6L1448.3 334.5L1449.9 333.3L1451.6 332.2L1453.2 331.0L1454.9 329.9L1456.5 328.8L1458.2 327.6L1459.8 326.5L1461.5 325.4L1463.1 324.2L1464.8 323.1L1466.4 322.0L1468.1 320.9L1469.8 319.7L1471.4 318.6L1473.1 317.5L1474.7 316.4L1476.4 315.3L1478.1 314.2L1479.7 313.0L1481.4 311.9L1483.0 310.8L1484.7 309.7L1486.4 308.6L1488.1 307.5L1489.7 306.4L1491.4 305.3L1493.1 304.2L1494.7 303.1L1496.4 302.0L1498.1 300.9L1499.8 299.9L1501.5 298.8L1503.1 297.7L1504.8 296.6L1506.5 295.5L1508.2 294.4L1509.9 293.4L1511.6 292.3L1513.2 291.2L1514.9 290.1L1516.6 289.1L1518.3 288.0L1520.0 286.9L1521.7 285.9L1523.4 284.8L1525.1 283.7L1526.8 282.7L1528.5 281.6L1530.2 280.6L1531.9 279.5L1533.6 278.5L1535.3 277.4L1537.0 276.4L1538.7 275.3L1540.4 274.3L1542.1 273.2L1543.8 272.2L1545.5 271.2L1547.2 270.1L1548.9 269.1L1550.6 268.1L1552.4 267.0L1554.1 266.0L1555.8 265.0L1557.5 264.0L1559.2 263.0L1560.9 261.9L1562.7 260.9L1564.4 259.9L1566.1 258.9L1567.8 257.9L1569.6 256.9L1571.3 255.9L1573.0 254.9L1574.7 253.9L1576.5 252.9L1578.2 251.9L1579.9 250.9L1581.7 249.9L1583.4 248.9L1585.1 247.9L1586.9 246.9L1588.6 245.9L1590.4 245.0L1592.1 244.0L1593.8 243.0L1595.6 242.0L1597.3 241.0L1599.1 240.1L1600.8 239.1L1602.6 238.1L1604.3 237.2L1606.1 236.2L1607.8 235.2L1609.6 234.3L1611.3 233.3L1613.1 232.4L1614.8 231.4L1616.6 230.5L1618.3 229.5L1620.1 228.6L1621.9 227.6L1623.6 226.7L1625.4 225.8L1627.2 224.8L1628.9 223.9L1630.7 223.0L1632.5 222.0L1634.2 221.1L1636.0 220.2L1637.8 219.3L1639.5 218.3L1641.3 217.4L1643.1 216.5L1644.9 215.6L1646.6 214.7L1648.4 213.8L1650.2 212.9L1652.0 212.0L1653.8 211.1L1655.6 210.2L1657.3 209.3L1659.1 208.4L1660.9 207.5L1662.7 206.6L1664.5 205.7L1666.3 204.8L1668.1 204.0L1669.9 203.1L1671.7 202.2L1673.5 201.3L1675.3 200.4L1677.1 199.6L1678.9 198.7L1680.7 197.8L1682.5 197.0L1684.3 196.1L1686.1 195.3L1687.9 194.4L1689.7 193.6L1691.5 192.7L1693.3 191.9L1695.1 191.0L1696.9 190.2L1698.7 189.3L1700.6 188.5L1702.4 187.7L1704.2 186.8L1706.0 186.0L1707.8 185.2L1709.6 184.3L1711.5 183.5L1713.3 182.7L1715.1 181.9L1716.9 181.1L1718.8 180.3L1720.6 179.4L1722.4 178.6L1724.3 177.8L1726.1 177.0L1727.9 176.2L1729.8 175.4L1731.6 174.6L1733.4 173.8L1735.3 173.1L1737.1 172.3L1738.9 171.5L1740.8 170.7L1742.6 169.9L1744.5 169.1L1746.3 168.4L1748.2 167.6L1750.0 166.8L1751.9 166.1L1753.7 165.3L1755.6 164.5L1757.4 163.8L1759.3 163.0L1761.1 162.3L1763.0 161.5L1764.9 160.8L1766.7 160.0L1768.6 159.3L1770.4 158.5L1772.3 157.8L1774.2 157.1L1776.0 156.3L1777.9 155.6L1779.8 154.9L1781.6 154.2L1783.5 153.4L1785.4 152.7L1787.3 152.0L1789.1 151.3L1791.0 150.6L1792.9 149.9L1794.8 149.2L1796.6 148.5L1798.5 147.8L1800.4 147.1L1802.3 146.4L1804.2 145.7L1806.1 145.0L1808.0 144.3L1809.8 143.6L1811.7 143.0L1813.6 142.3L1815.5 141.6L1817.4 140.9L1819.3 140.3L1821.2 139.6L1823.1 139.0L1825.0 138.3L1826.9 137.6L1828.8 137.0L1830.7 136.3L1832.6 135.7L1834.5 135.0L1836.4 134.4L1838.3 133.8L1840.2 133.1L1842.2 132.5L1844.1 131.9L1846.0 131.2L1847.9 130.6L1849.8 130.0L1851.7 129.4L1853.7 128.8L1855.6 128.1L1857.5 127.5L1859.4 126.9L1861.3 126.3L1863.3 125.7L1865.2 125.1L1867.1 124.5L1869.1 123.9L1871.0 123.3L1872.9 122.8L1874.8 122.2L1876.8 121.6L1878.7 121.0"/>
<path stroke="#008080" d="M591.1 1326.1L591.9 1324.3L592.7 1322.4L593.5 1320.6L594.3 1318.8L595.1 1316.9L595.9 1315.1L596.7 1313.2L597.5 1311.4L598.3 1309.6L599.1 1307.7L599.9 1305.9L600.7 1304.0L601.5 1302.2L602.3 1300.4L603.1 1298.5L603.9 1296.7L604.7 1294.9L605.5 1293.0L606.3 1291.2L607.1 1289.4L607.9 1287.5L608.7 1285.7L609.5 1283.9L610.3 1282.0L611.2 1280.2L612.0 1278.4L612.8 1276.5L613.6 1274.7L614.4 1272.9L615.2 1271.0L616.0 1269.2L616.8 1267.4L617.6 1265.5L618.4 1263.7L619.2 1261.9L620.0 1260.0L620.8 1258.2L621.6 1256.4L622.4 1254.6L623.2 1252.7L624.0 1250.9L624.8 1249.1L625.6 1247.2L626.4 1245.4L627.2 1243.6L628.0 1241.7L628.8 1239.9L629.6 1238.1L630.4 1236.2L631.2 1234.4L632.0 1232.6L632.8 1230.7L633.6 1228.9L634.4 1227.1L635.2 1225.2L636.0 1223.4L636.8 1221.6L637.5 1219.7L638.3 1217.9L639.1 1216.1L639.9 1214.2L640.7 1212.4L641.5 1210.6L642.3 1208.7L643.0 1206.9L643.8 1205.1L644.6 1203.2L645.4 1201.4L646.2 1199.6L646.9 1197.7L647.7 1195.9L648.5 1194.0L649.3 1192.2L650.0 1190.4L650.8 1188.5L651.6 1186.7L652.3 1184.8L653.1 1183.0L653.9 1181.1L654.6 1179.3L655.4 1177.5L656.2 1175.6L656.9 1173.8L657.7 1171.9L658.4 1170.1L659.2 1168.2L659.9 1166.4L660.7 1164.5L661.4 1162.7L662.2 1160.8L662.9 1159.0L663.7 1157.1L664.4 1155.3L665.1 1153.4L665.9 1151.5L666.6 1149.7L667.3 1147.8L668.1 1146.0L668.8 1144.1L669.5 1142.3L670.3 1140.4L671.0 1138.5L671.7 1136.7L672.4 1134.8L673.1 1132.9L673.9 1131.1L674.6 1129.2L675.3 1127.3L676.0 1125.5L676.7 1123.6L677.4 1121.7L678.1 1119.8L678.8 1118.0L679.5 1116.1L680.2 1114.2L680.9 1112.3L681.6 1110.5L682.2 1108.6L682.9 1106.7L683.6 1104.8L684.3 1102.9L685.0 1101.0L685.6 1099.1L686.3 1097.3L687.0 1095.4L687.6 1093.5L688.3 1091.6L689.0 1089.7L689.6 1087.8L690.3 1085.9L690.9 1084.0L691.6 1082.1L692.2 1080.2L692.9 1078.3L693.5 1076.4L694.2 1074.5L694.8 1072.6L695.4 1070.7L696.1 1068.8L696.7 1066.9L697.3 1065.0L698.0 1063.1L698.6 1061.2L699.2 1059.2L699.9 1057.3L700.5 1055.4L701.1 1053.5L701.7 1051.6L702.4 1049.7L703.0 1047.8L703.6 1045.9L704.2 1044.0L704.9 1042.0L705.5 1040.1L706.1 1038.2L706.7 1036.3L707.3 1034.4L708.0 1032.5L708.6 1030.6L709.2 1028.6L709.8 1026.7L710.4 1024.8L711.0 1022.9L711.7 1021.0L712.3 1019.1L712.9 1017.1L713.5 1015.2L714.1 1013.3L714.7 1011.4L715.4 1009.5L716.0 1007.6L716.6 1005.7L717.2 1003.7L717.8 1001.8L718.5 999.9L719.1 998.0L719.7 996.1L720.3 994.2L721.0 992.3L721.6 990.4L722.2 988.5L722.8 986.5L723.5 984.6L724.1 982.7L724.7 980.8L725.4 978.9L726.0 977.0L726.6 975.1L727.3 973.2L727.9 971.3L728.6 969.4L729.2 967.5L729.8 965.6L730.5 963.7L731.1 961.8L731.8 959.9L732.4 958.0L733.1 956.1L733.8 954.2L734.4 952.3L735.1 950.4L735.7 948.6L736.4 946.7L737.1 944.8L737.8 942.9L738.4 941.0L739.1 939.1L739.8 937.3L740.5 935.4L741.2 933.5L741.9 931.6L742.6 929.7L743.3 927.9L744.0 926.0L744.7 924.1L745.4 922.3L746.1 920.4L746.8 918.5L747.5 916.7L748.2 914.8L749.0 913.0L749.7 911.1L750.4 909.3L751.2 907.4L751.9 905.6L752.7 903.7L753.4 901.9L754.2 900.0L754.9 898.2L755.7 896.4L756.5 894.5L757.2 892.7L758.0 890.9L758.8 889.0L759.6 887.2L760.4 885.4L761.2 883.6L762.0 881.7L762.8 879.9L763.6 878.1L764.4 876.3L765.2 874.5L766.0 872.7L766.9 870.9L767.7 869.1L768.5 867.3L769.4 865.5L770.2 863.7L771.1 861.9L772.0 860.1L772.8 858.4L773.7 856.6L774.6 854.8L775.5 853.0L776.4 851.3L777.3 849.5L778.2 847.7L779.1 846.0L780.0 844.2L780.9 842.5L781.9 840.7L782.8 839.0L783.7 837.2L784.7 835.5L785.6 833.7L786.6 832.0L787.5 830.2L788.5 828.5L789.4 826.8L790.4 825.0L791.4 823.3L792.4 821.6L793.3 819.9L794.3 818.2L795.3 816.4L796.3 814.7L797.3 813.0L798.3 811.3L799.3 809.6L800.4 807.9L801.4 806.2L802.4 804.5L803.4 802.8L804.5 801.1L805.5 799.4L806.5 797.7L807.6 796.0L808.6 794.3L809.7 792.6L810.7 790.9L811.8 789.2L812.9 787.6L813.9 785.9L815.0 784.2L816.1 782.5L817.1 780.8L818.2 779.2L819.3 777.5L820.4 775.8L821.5 774.2L822.6 772.5L823.7 770.8L824.8 769.2L825.9 767.5L827.0 765.8L828.1 764.2L829.2 762.5L830.3 760.9L831.4 759.2L832.5 757.5L833.7 755.9L834.8 754.2L835.9 752.6L837.0 750.9L838.2 749.3L839.3 747.6L840.4 746.0L841.6 744.4L842.7 742.7L843.9 741.1L845.0 739.4L846.2 737.8L847.3 736.1L848.5 734.5L849.6 732.9L850.8 731.2L851.9 729.6L853.1 728.0L854.2 726.3L855.4 724.7L856.6 723.0L857.7 721.4L858.9 719.8L860.1 718.2L861.2 716.5L862.4 714.9L863.6 713.3L864.8 711.6L865.9 710.0L867.1 708.4L868.3 706.7L869.5 705.1L870.6 703.5L871.8 701.9L873.0 700.2L874.2 698.6L875.4 697.0L876.5 695.4L877.7 693.7L878.9 692.1L880.1 690.5L881.3 688.8L882.5 687.2L883.7 685.6L884.9 684.0L886.0 682.3L887.2 680.7L888.4 679.1L889.6 677.5L890.8 675.8L892.0 674.2L893.2 672.6L894.4 671.0L895.5 669.3L896.7 667.7L897.9 666.1L899.1 664.5L900.3 662.8L901.5 661.2L902.7 659.6L903.9 657.9L905.0 656.3L906.2 654.7L907.4 653.1L908.6 651.4L909.8 649.8L911.0 648.2L912.2 646.5L913.3 644.9L914.5 643.3L915.7 641.6L916.9 640.0L918.1 638.4L919.2 636.7L920.4 635.1L921.6 633.4L922.8 631.8L923.9 630.2L925.1 628.5L926.3 626.9L927.4 625.2L928.6 623.6L929.8 622.0L930.9 620.3L932.1 618.7L933.3 617.0L934.5 615.4L935.6 613.7L936.8 612.1L938.0 610.4L939.1 608.8L940.3 607.2L941.5 605.5L942.6 603.9L943.8 602.2L945.0 600.6L946.1 598.9L947.3 597.3L948.5 595.7L949.6 594.0L950.8 592.4L952.0 590.7L953.1 589.1L954.3 587.5L955.5 585.8L956.6 584.2L957.8 582.6L959.0 580.9L960.1 579.3L961.3 577.6L962.5 576.0L963.7 574.4L964.8 572.8L966.0 571.1L967.2 569.5L968.4 567.9L969.6 566.2L970.7 564.6L971.9 563.0L973.1 561.4L974.3 559.7L975.5 558.1L976.7 556.5L977.9 554.9L979.1 553.3L980.2 551.7L981.4 550.1L982.6 548.4L983.8 546.8L985.0 545.2L986.2 543.6L987.4 542.0L988.6 540.4L989.9 538.8L991.1 537.2L992.3 535.6L993.5 534.0L994.7 532.5L995.9 530.9L997.1 529.3L998.4 527.7L999.6 526.1L1000.8 524.5L1002.1 523.0L1003.3 521.4L1004.5 519.8L1005.8 518.3L1007.0 516.7L1008.3 515.1L1009.5 513.6L1010.8 512.0L1012.0 510.5L1013.3 508.9L1014.5 507.4L1015.8 505.8L1017.1 504.3L1018.3 502.7L1019.6 501.2L1020.9 499.7L1022.2 498.1L1023.4 496.6L1024.7 495.1L1026.0 493.6L1027.3 492.1L1028.6 490.5L1029.9 489.0L1031.2 487.5L1032.5 486.0L1033.8 484.5L1035.1 483.0L1036.5 481.6L1037.8 480.1L1039.1 478.6L1040.5 477.1L1041.8 475.6L1043.1 474.2L1044.5 472.7L1045.8 471.2L1047.2 469.8L1048.5 468.3L1049.9 466.8L1051.2 465.4L1052.6 464.0L1054.0 462.5L1055.3 461.1L1056.7 459.6L1058.1 458.2L1059.5 456.8L1060.9 455.3L1062.3 453.9L1063.7 452.5L1065.1 451.1L1066.5 449.7L1067.9 448.3L1069.3 446.9L1070.7 445.5L1072.1 444.1L1073.5 442.7L1074.9 441.3L1076.4 439.9L1077.8 438.5L1079.2 437.1L1080.7 435.8L1082.1 434.4L1083.5 433.0L1085.0 431.7L1086.4 430.3L1087.9 428.9L1089.3 427.6L1090.8 426.2L1092.3 424.9L1093.7 423.5L1095.2 422.2L1096.7 420.9L1098.1 419.5L1099.6 418.2L1101.1 416.9L1102.6 415.6L1104.1 414.2L1105.6 412.9L1107.1 411.6L1108.6 410.3L1110.1 409.0L1111.6 407.7L1113.1 406.4L1114.6 405.1L1116.1 403.8L1117.6 402.5L1119.1 401.2L1120.7 399.9L1122.2 398.7L1123.7 397.4L1125.2 396.1L1126.8 394.8L1128.3 393.6L1129.9 392.3L1131.4 391.1L1132.9 389.8L1134.5 388.5L1136.0 387.3L1137.6 386.0L1139.2 384.8L1140.7 383.6L1142.3 382.3L1143.9 381.1L1145.4 379.9L1147.0 378.6L1148.6 377.4L1150.1 376.2L1151.7 375.0L1153.3 373.8L1154.9 372.6L1156.5 371.4L1158.1 370.2L1159.7 369.0L1161.3 367.8L1162.9 366.6L1164.5 365.4L1166.1 364.2L1167.7 363.0L1169.3 361.8L1170.9 360.7L1172.5 359.5L1174.2 358.3L1175.8 357.1L1177.4 356.0L1179.0 354.8L1180.7 353.7L1182.3 352.5L1183.9 351.4L1185.6 350.2L1187.2 349.1L1188.8 347.9L1190.5 346.8L1192.1 345.7L1193.8 344.5L1195.4 343.4L1197.1 342.3L1198.7 341.1L1200.4 340.0L1202.1 338.9L1203.7 337.8L1205.4 336.7L1207.1 335.6L1208.7 334.5L1210.4 333.4L1212.1 332.3L1213.8 331.2L1215.4 330.1L1217.1 329.0L1218.8 327.9L1220.5 326.8L1222.2 325.8L1223.9 324.7L1225.6 323.6L1227.3 322.5L1229.0 321.5L1230.7 320.4L1232.4 319.4L1234.1 318.3L1235.8 317.2L1237.5 316.2L1239.2 315.1L1240.9 314.1L1242.6 313.1L1244.3 312.0L1246.1 311.0L1247.8 310.0L1249.5 308.9L1251.2 307.9L1253.0 306.9L1254.7 305.9L1256.4 304.8L1258.2 303.8L1259.9 302.8L1261.6 301.8L1263.4 300.8L1265.1 299.8L1266.9 298.8L1268.6 297.8L1270.4 296.8L1272.1 295.8L1273.9 294.8L1275.6 293.8L1277.4 292.9L1279.1 291.9L1280.9 290.9L1282.6 289.9L1284.4 289.0L1286.2 288.0L1287.9 287.0L1289.7 286.1L1291.5 285.1L1293.2 284.2L1295.0 283.2L1296.8 282.3L1298.6 281.3L1300.3 280.4L1302.1 279.4L1303.9 278.5L1305.7 277.6L1307.5 276.6L1309.2 275.7L1311.0 274.8L1312.8 273.8L1314.6 272.9L1316.4 272.0L1318.2 271.1L1320.0 270.2L1321.8 269.3L1323.6 268.4L1325.4 267.5L1327.2 266.6L1329.0 265.7L1330.8 264.8L1332.6 263.9L1334.4 263.0L1336.2 262.1L1338.0 261.2L1339.8 260.3L1341.6 259.5L1343.5 258.6L1345.3 257.7L1347.1 256.8L1348.9 256.0L1350.7 255.1L1352.5 254.2L1354.4 253.4L1356.2 252.5L1358.0 251.7L1359.8 250.8L1361.7 250.0L1363.5 249.1L1365.3 248.3L1367.1 247.4L1369.0 246.6L1370.8 245.8L1372.6 244.9L1374.5 244.1L1376.3 243.3L1378.1 242.5L1380.0 241.6L1381.8 240.8L1383.7 240.0L1385.5 239.2L1387.3 238.4L1389.2 237.6L1391.0 236.8L1392.9 236.0L1394.7 235.2L1396.6 234.4L1398.4 233.6L1400.3 232.8L1402.1 232.0L1404.0 231.2L1405.8 230.4L1407.7 229.7L1409.5 228.9L1411.4 228.1L1413.2 227.3L1415.1 226.6L1417.0 225.8L1418.8 225.0L1420.7 224.3L1422.5 223.5L1424.4 222.7L1426.2 222.0L1428.1 221.2L1430.0 220.5L1431.8 219.7L1433.7 219.0L1435.6 218.3L1437.4 217.5L1439.3 216.8L1441.2 216.0L1443.0 215.3L1444.9 214.6L1446.8 213.9L1448.6 213.1L1450.5 212.4L1452.4 211.7L1454.3 211.0L1456.1 210.3L1458.0 209.5L1459.9 208.8L1461.7 208.1L1463.6 207.4L1465.5 206.7L1467.4 206.0L1469.3 205.3L1471.1 204.6L1473.0 203.9L1474.9 203.2L1476.8 202.6L1478.7 201.9L1480.5 201.2L1482.4 200.5L1484.3 199.8L1486.2 199.2L1488.1 198.5L1490.0 197.8L1491.8 197.1L1493.7 196.5L1495.6 195.8L1497.5 195.2L1499.4 194.5L1501.3 193.8L1503.2 193.2L1505.1 192.5L1507.0 191.9L1508.8 191.2L1510.7 190.6L1512.6 189.9L1514.5 189.3L1516.4 188.7L1518.3 188.0L1520.2 187.4L1522.1 186.8L1524.0 186.1L1525.9 185.5L1527.8 184.9L1529.7 184.3L1531.6 183.6L1533.5 183.0L1535.4 182.4L1537.3 181.8L1539.2 181.2L1541.1 180.6L1543.0 180.0L1544.9 179.3L1546.8 178.7L1548.7 178.1L1550.6 177.5L1552.5 176.9L1554.4 176.3L1556.3 175.8L1558.3 175.2L1560.2 174.6L1562.1 174.0L1564.0 173.4L1565.9 172.8L1567.8 172.2L1569.7 171.7L1571.6 171.1L1573.5 170.5L1575.5 169.9L1577.4 169.4L1579.3 168.8L1581.2 168.2L1583.1 167.7L1585.0 167.1L1587.0 166.5L1588.9 166.0L1590.8 165.4L1592.7 164.9L1594.6 164.3L1596.5 163.8L1598.5 163.2L1600.4 162.7L1602.3 162.1L1604.2 161.6L1606.2 161.0L1608.1 160.5L1610.0 160.0L1611.9 159.4L1613.9 158.9L1615.8 158.4L1617.7 157.8L1619.6 157.3L1621.6 156.8L1623.5 156.3L1625.4 155.7L1627.3 155.2L1629.3 154.7L1631.2 154.2L1633.1 153.7L1635.1 153.2L1637.0 152.6L1638.9 152.1L1640.9 151.6L1642.8 151.1L1644.7 150.6L1646.7 150.1L1648.6 149.6L1650.5 149.1L1652.5 148.6L1654.4 148.1L1656.3 147.6L1658.3 147.1L1660.2 146.6L1662.2 146.2L1664.1 145.7L1666.0 145.2L1668.0 144.7L1669.9 144.2L1671.9 143.7L1673.8 143.3L1675.7 142.8L1677.7 142.3L1679.6 141.8L1681.6 141.4L1683.5 140.9L1685.5 140.4L1687.4 139.9L1689.4 139.5L1691.3 139.0L1693.2 138.6L1695.2 138.1L1697.1 137.6L1699.1 137.2L1701.0 136.7L1703.0 136.3L1704.9 135.8L1706.9 135.4L1708.8 134.9L1710.8 134.5L1712.7 134.0L1714.7 133.6L1716.6 133.1L1718.6 132.7L1720.5 132.2L1722.5 131.8L1724.4 131.4L1726.4 130.9L1728.4 130.5L1730.3 130.1L1732.3 129.6L1734.2 129.2L1736.2 128.8L1738.1 128.3L1740.1 127.9L1742.1 127.5L1744.0 127.1L1746.0 126.7L1747.9 126.2L1749.9 125.8L1751.8 125.4L1753.8 125.0L1755.8 124.6L1757.7 124.1L1759.7 123.7L1761.7 123.3L1763.6 122.9L1765.6 122.5L1767.5 122.1L1769.5 121.7L1771.5 121.3L1773.4 120.9L1775.4 120.5L1777.4 120.1L1779.3 119.7L1781.3 119.3L1783.3 118.9L1785.2 118.5L1787.2 118.1L1789.2 117.7L1791.1 117.3L1793.1 116.9L1795.1 116.5L1797.0 116.1L1799.0 115.8L1801.0 115.4L1802.9 115.0L1804.9 114.6L1806.9 114.2L1808.9 113.8L1810.8 113.5L1812.8 113.1L1814.8 112.7L1816.7 112.3L1818.7 112.0L1820.7 111.6L1822.7 111.2L1824.6 110.8L1826.6 110.5L1828.6 110.1L1830.6 109.7L1832.5 109.4L1834.5 109.0L1836.5 108.6L1838.5 108.3L1840.5 107.9L1842.4 107.5L1844.4 107.2L1846.4 106.8L1848.4 106.5L1850.3 106.1L1852.3 105.7L1854.3 105.4L1856.3 105.0L1858.3 104.7L1860.2 104.3L1862.2 104.0L1864.2 103.6L1866.2 103.3L1868.2 102.9L1870.1 102.6L1872.1 102.2L1874.1 101.9L1876.1 101.5L1878.1 101.2L1880.1 100.9L1882.0 100.5L1884.0 100.2L1886.0 99.8"/>
<path stroke="#FF8000" d="M569.0 1331.4L569.6 1329.4L570.2 1327.5L570.8 1325.6L571.4 1323.6L572.0 1321.7L572.7 1319.8L573.3 1317.9L573.9 1316.0L574.5 1314.0L575.1 1312.1L575.8 1310.2L576.4 1308.3L577.0 1306.4L577.7 1304.5L578.3 1302.6L579.0 1300.7L579.6 1298.8L580.3 1296.9L580.9 1295.0L581.6 1293.1L582.2 1291.2L582.9 1289.3L583.6 1287.4L584.2 1285.5L584.9 1283.6L585.6 1281.7L586.3 1279.8L586.9 1277.9L587.6 1276.0L588.3 1274.2L589.0 1272.3L589.7 1270.4L590.4 1268.5L591.0 1266.6L591.7 1264.8L592.4 1262.9L593.1 1261.0L593.8 1259.1L594.5 1257.2L595.2 1255.4L595.9 1253.5L596.6 1251.6L597.3 1249.8L598.0 1247.9L598.8 1246.0L599.5 1244.1L600.2 1242.3L600.9 1240.4L601.6 1238.5L602.3 1236.7L603.0 1234.8L603.8 1232.9L604.5 1231.1L605.2 1229.2L605.9 1227.3L606.6 1225.5L607.4 1223.6L608.1 1221.8L608.8 1219.9L609.5 1218.0L610.3 1216.2L611.0 1214.3L611.7 1212.4L612.5 1210.6L613.2 1208.7L613.9 1206.9L614.6 1205.0L615.4 1203.1L616.1 1201.3L616.8 1199.4L617.6 1197.6L618.3 1195.7L619.0 1193.9L619.7 1192.0L620.5 1190.1L621.2 1188.3L621.9 1186.4L622.6 1184.6L623.4 1182.7L624.1 1180.8L624.8 1179.0L625.6 1177.1L626.3 1175.3L627.0 1173.4L627.7 1171.5L628.5 1169.7L629.2 1167.8L629.9 1165.9L630.6 1164.1L631.3 1162.2L632.1 1160.4L632.8 1158.5L633.5 1156.6L634.2 1154.8L634.9 1152.9L635.6 1151.0L636.3 1149.2L637.1 1147.3L637.8 1145.4L638.5 1143.6L639.2 1141.7L639.9 1139.8L640.6 1138.0L641.3 1136.1L642.0 1134.2L642.7 1132.3L643.4 1130.5L644.1 1128.6L644.8 1126.7L645.4 1124.8L646.1 1123.0L646.8 1121.1L647.5 1119.2L648.2 1117.3L648.9 1115.4L649.5 1113.6L650.2 1111.7L650.9 1109.8L651.5 1107.9L652.2 1106.0L652.9 1104.1L653.5 1102.2L654.2 1100.3L654.8 1098.5L655.5 1096.6L656.1 1094.7L656.8 1092.8L657.4 1090.9L658.1 1089.0L658.7 1087.1L659.3 1085.2L660.0 1083.3L660.6 1081.4L661.2 1079.5L661.9 1077.6L662.5 1075.6L663.1 1073.7L663.7 1071.8L664.3 1069.9L665.0 1068.0L665.6 1066.1L666.2 1064.2L666.8 1062.3L667.4 1060.4L668.0 1058.4L668.6 1056.5L669.2 1054.6L669.8 1052.7L670.4 1050.8L671.0 1048.9L671.6 1046.9L672.2 1045.0L672.8 1043.1L673.4 1041.2L674.0 1039.3L674.6 1037.3L675.2 1035.4L675.8 1033.5L676.4 1031.6L677.0 1029.6L677.6 1027.7L678.2 1025.8L678.7 1023.9L679.3 1021.9L679.9 1020.0L680.5 1018.1L681.1 1016.2L681.7 1014.2L682.3 1012.3L682.8 1010.4L683.4 1008.5L684.0 1006.5L684.6 1004.6L685.2 1002.7L685.8 1000.8L686.3 998.8L686.9 996.9L687.5 995.0L688.1 993.1L688.7 991.1L689.3 989.2L689.8 987.3L690.4 985.4L691.0 983.4L691.6 981.5L692.2 979.6L692.8 977.6L693.4 975.7L694.0 973.8L694.5 971.9L695.1 970.0L695.7 968.0L696.3 966.1L696.9 964.2L697.5 962.3L698.1 960.3L698.7 958.4L699.3 956.5L699.9 954.6L700.5 952.7L701.1 950.7L701.7 948.8L702.3 946.9L702.9 945.0L703.5 943.1L704.1 941.2L704.7 939.2L705.3 937.3L706.0 935.4L706.6 933.5L707.2 931.6L707.8 929.7L708.4 927.8L709.1 925.9L709.7 924.0L710.3 922.1L710.9 920.2L711.6 918.3L712.2 916.4L712.9 914.4L713.5 912.5L714.1 910.6L714.8 908.8L715.4 906.9L716.1 905.0L716.7 903.1L717.4 901.2L718.0 899.3L718.7 897.4L719.4 895.5L720.0 893.6L720.7 891.7L721.4 889.8L722.1 888.0L722.7 886.1L723.4 884.2L724.1 882.3L724.8 880.4L725.5 878.6L726.2 876.7L726.9 874.8L727.6 872.9L728.3 871.1L729.0 869.2L729.7 867.3L730.5 865.5L731.2 863.6L731.9 861.8L732.6 859.9L733.4 858.0L734.1 856.2L734.8 854.3L735.6 852.5L736.3 850.6L737.1 848.8L737.9 846.9L738.6 845.1L739.4 843.3L740.2 841.4L740.9 839.6L741.7 837.8L742.5 835.9L743.3 834.1L744.1 832.3L744.9 830.4L745.7 828.6L746.5 826.8L747.3 825.0L748.2 823.2L749.0 821.4L749.8 819.5L750.7 817.7L751.5 815.9L752.3 814.1L753.2 812.3L754.0 810.5L754.9 808.7L755.8 806.9L756.6 805.1L757.5 803.3L758.4 801.5L759.2 799.8L760.1 798.0L761.0 796.2L761.9 794.4L762.8 792.6L763.7 790.8L764.6 789.1L765.5 787.3L766.4 785.5L767.3 783.7L768.2 782.0L769.1 780.2L770.0 778.4L771.0 776.7L771.9 774.9L772.8 773.2L773.8 771.4L774.7 769.6L775.6 767.9L776.6 766.1L777.5 764.4L778.5 762.6L779.4 760.9L780.4 759.2L781.3 757.4L782.3 755.7L783.3 753.9L784.2 752.2L785.2 750.4L786.2 748.7L787.1 747.0L788.1 745.2L789.1 743.5L790.1 741.8L791.0 740.1L792.0 738.3L793.0 736.6L794.0 734.9L795.0 733.2L796.0 731.4L797.0 729.7L798.0 728.0L798.9 726.3L799.9 724.6L800.9 722.9L801.9 721.2L802.9 719.4L803.9 717.7L805.0 716.0L806.0 714.3L807.0 712.6L808.0 710.9L809.0 709.2L810.0 707.5L811.0 705.8L812.0 704.1L813.0 702.4L814.0 700.7L815.1 699.0L816.1 697.3L817.1 695.6L818.1 693.9L819.1 692.2L820.1 690.5L821.2 688.9L822.2 687.2L823.2 685.5L824.2 683.8L825.2 682.1L826.2 680.4L827.3 678.7L828.3 677.0L829.3 675.3L830.3 673.6L831.3 671.9L832.4 670.2L833.4 668.6L834.4 666.9L835.4 665.2L836.4 663.5L837.4 661.8L838.4 660.1L839.5 658.4L840.5 656.7L841.5 655.0L842.5 653.3L843.5 651.6L844.5 649.9L845.5 648.1L846.5 646.4L847.5 644.7L848.5 643.0L849.5 641.3L850.5 639.6L851.5 637.9L852.5 636.1L853.5 634.4L854.5 632.7L855.5 631.0L856.5 629.2L857.4 627.5L858.4 625.8L859.4 624.0L860.4 622.3L861.4 620.5L862.3 618.8L863.3 617.0L864.3 615.3L865.2 613.5L866.2 611.8L867.2 610.0L868.1 608.3L869.1 606.5L870.0 604.7L871.0 602.9L871.9 601.2L872.9 599.4L873.8 597.6L874.8 595.8L875.7 594.1L876.7 592.3L877.6 590.5L878.6 588.7L879.5 586.9L880.4 585.1L881.4 583.3L882.3 581.6L883.3 579.8L884.2 578.0L885.1 576.2L886.1 574.4L887.0 572.6L888.0 570.8L888.9 569.0L889.8 567.2L890.8 565.4L891.7 563.6L892.6 561.8L893.6 560.0L894.5 558.2L895.5 556.4L896.4 554.6L897.3 552.8L898.3 551.0L899.2 549.2L900.2 547.4L901.1 545.6L902.0 543.8L903.0 542.0L903.9 540.2L904.9 538.4L905.8 536.6L906.8 534.8L907.7 533.0L908.7 531.2L909.6 529.4L910.6 527.6L911.5 525.8L912.5 524.1L913.5 522.3L914.4 520.5L915.4 518.7L916.4 516.9L917.3 515.1L918.3 513.4L919.3 511.6L920.2 509.8L921.2 508.0L922.2 506.3L923.2 504.5L924.2 502.7L925.2 501.0L926.2 499.2L927.2 497.5L928.2 495.7L929.2 494.0L930.2 492.2L931.2 490.5L932.2 488.7L933.2 487.0L934.2 485.2L935.2 483.5L936.3 481.8L937.3 480.0L938.3 478.3L939.4 476.6L940.4 474.9L941.5 473.2L942.5 471.5L943.6 469.8L944.6 468.1L945.7 466.4L946.8 464.7L947.8 463.0L948.9 461.3L950.0 459.6L951.1 457.9L952.2 456.3L953.3 454.6L954.4 452.9L955.5 451.3L956.6 449.6L957.7 448.0L958.9 446.4L960.0 444.7L961.1 443.1L962.3 441.5L963.4 439.8L964.6 438.2L965.7 436.6L966.9 435.0L968.1 433.4L969.2 431.8L970.4 430.2L971.6 428.7L972.8 427.1L974.0 425.5L975.2 424.0L976.4 422.4L977.7 420.8L978.9 419.3L980.1 417.8L981.4 416.2L982.6 414.7L983.9 413.2L985.1 411.7L986.4 410.2L987.7 408.7L988.9 407.2L990.2 405.7L991.5 404.2L992.8 402.7L994.1 401.2L995.4 399.8L996.7 398.3L998.0 396.9L999.4 395.4L1000.7 394.0L1002.0 392.5L1003.4 391.1L1004.7 389.7L1006.1 388.2L1007.4 386.8L1008.8 385.4L1010.2 384.0L1011.6 382.6L1012.9 381.2L1014.3 379.8L1015.7 378.5L1017.1 377.1L1018.5 375.7L1019.9 374.3L1021.3 373.0L1022.8 371.6L1024.2 370.3L1025.6 368.9L1027.1 367.6L1028.5 366.3L1030.0 364.9L1031.4 363.6L1032.9 362.3L1034.3 361.0L1035.8 359.7L1037.3 358.4L1038.7 357.1L1040.2 355.8L1041.7 354.5L1043.2 353.2L1044.7 352.0L1046.2 350.7L1047.7 349.4L1049.2 348.2L1050.7 346.9L1052.3 345.7L1053.8 344.4L1055.3 343.2L1056.9 342.0L1058.4 340.7L1059.9 339.5L1061.5 338.3L1063.0 337.1L1064.6 335.9L1066.2 334.7L1067.7 333.5L1069.3 332.3L1070.9 331.1L1072.5 329.9L1074.1 328.7L1075.6 327.6L1077.2 326.4L1078.8 325.2L1080.4 324.1L1082.1 322.9L1083.7 321.8L1085.3 320.6L1086.9 319.5L1088.5 318.4L1090.2 317.2L1091.8 316.1L1093.4 315.0L1095.1 313.9L1096.7 312.8L1098.4 311.7L1100.0 310.6L1101.7 309.5L1103.3 308.4L1105.0 307.3L1106.7 306.2L1108.3 305.1L1110.0 304.1L1111.7 303.0L1113.4 301.9L1115.1 300.9L1116.8 299.8L1118.4 298.8L1120.1 297.7L1121.8 296.7L1123.6 295.7L1125.3 294.6L1127.0 293.6L1128.7 292.6L1130.4 291.6L1132.1 290.5L1133.9 289.5L1135.6 288.5L1137.3 287.5L1139.1 286.5L1140.8 285.5L1142.5 284.6L1144.3 283.6L1146.0 282.6L1147.8 281.6L1149.5 280.6L1151.3 279.7L1153.1 278.7L1154.8 277.8L1156.6 276.8L1158.4 275.9L1160.1 274.9L1161.9 274.0L1163.7 273.0L1165.5 272.1L1167.3 271.2L1169.1 270.3L1170.8 269.3L1172.6 268.4L1174.4 267.5L1176.2 266.6L1178.0 265.7L1179.8 264.8L1181.6 263.9L1183.5 263.0L1185.3 262.1L1187.1 261.2L1188.9 260.4L1190.7 259.5L1192.5 258.6L1194.4 257.7L1196.2 256.9L1198.0 256.0L1199.9 255.1L1201.7 254.3L1203.5 253.4L1205.4 252.6L1207.2 251.8L1209.0 250.9L1210.9 250.1L1212.7 249.3L1214.6 248.4L1216.4 247.6L1218.3 246.8L1220.1 246.0L1222.0 245.2L1223.9 244.3L1225.7 243.5L1227.6 242.7L1229.5 241.9L1231.3 241.1L1233.2 240.4L1235.1 239.6L1236.9 238.8L1238.8 238.0L1240.7 237.2L1242.6 236.4L1244.4 235.7L1246.3 234.9L1248.2 234.1L1250.1 233.4L1252.0 232.6L1253.9 231.9L1255.8 231.1L1257.6 230.4L1259.5 229.6L1261.4 228.9L1263.3 228.2L1265.2 227.4L1267.1 226.7L1269.0 226.0L1270.9 225.2L1272.8 224.5L1274.7 223.8L1276.6 223.1L1278.5 222.4L1280.4 221.7L1282.3 221.0L1284.2 220.3L1286.2 219.6L1288.1 218.9L1290.0 218.2L1291.9 217.5L1293.8 216.8L1295.7 216.1L1297.6 215.4L1299.5 214.8L1301.5 214.1L1303.4 213.4L1305.3 212.8L1307.2 212.1L1309.1 211.4L1311.1 210.8L1313.0 210.1L1314.9 209.5L1316.8 208.8L1318.7 208.2L1320.7 207.5L1322.6 206.9L1324.5 206.2L1326.4 205.6L1328.4 205.0L1330.3 204.3L1332.2 203.7L1334.1 203.1L1336.1 202.4L1338.0 201.8L1339.9 201.2L1341.9 200.6L1343.8 200.0L1345.7 199.4L1347.6 198.8L1349.6 198.2L1351.5 197.6L1353.4 197.0L1355.3 196.4L1357.3 195.8L1359.2 195.2L1361.1 194.6L1363.1 194.0L1365.0 193.4L1366.9 192.8L1368.8 192.2L1370.8 191.7L1372.7 191.1L1374.6 190.5L1376.6 190.0L1378.5 189.4L1380.4 188.8L1382.4 188.3L1384.3 187.7L1386.2 187.1L1388.1 186.6L1390.1 186.0L1392.0 185.5L1393.9 184.9L1395.9 184.4L1397.8 183.8L1399.7 183.3L1401.7 182.8L1403.6 182.2L1405.5 181.7L1407.4 181.2L1409.4 180.6L1411.3 180.1L1413.2 179.6L1415.2 179.0L1417.1 178.5L1419.0 178.0L1421.0 177.5L1422.9 177.0L1424.8 176.5L1426.8 175.9L1428.7 175.4L1430.6 174.9L1432.6 174.4L1434.5 173.9L1436.4 173.4L1438.4 172.9L1440.3 172.4L1442.2 171.9L1444.2 171.4L1446.1 171.0L1448.0 170.5L1450.0 170.0L1451.9 169.5L1453.8 169.0L1455.8 168.5L1457.7 168.1L1459.7 167.6L1461.6 167.1L1463.5 166.6L1465.5 166.2L1467.4 165.7L1469.3 165.2L1471.3 164.8L1473.2 164.3L1475.1 163.8L1477.1 163.4L1479.0 162.9L1481.0 162.5L1482.9 162.0L1484.8 161.6L1486.8 161.1L1488.7 160.7L1490.7 160.2L1492.6 159.8L1494.5 159.3L1496.5 158.9L1498.4 158.5L1500.3 158.0L1502.3 157.6L1504.2 157.2L1506.2 156.7L1508.1 156.3L1510.1 155.9L1512.0 155.4L1513.9 155.0L1515.9 154.6L1517.8 154.2L1519.8 153.7L1521.7 153.3L1523.6 152.9L1525.6 152.5L1527.5 152.1L1529.5 151.7L1531.4 151.2L1533.4 150.8L1535.3 150.4L1537.3 150.0L1539.2 149.6L1541.1 149.2L1543.1 148.8L1545.0 148.4L1547.0 148.0L1548.9 147.6L1550.9 147.2L1552.8 146.8L1554.8 146.4L1556.7 146.0L1558.7 145.6L1560.6 145.3L1562.6 144.9L1564.5 144.5L1566.5 144.1L1568.4 143.7L1570.4 143.3L1572.3 142.9L1574.3 142.6L1576.2 142.2L1578.2 141.8L1580.1 141.4L1582.1 141.1L1584.0 140.7L1586.0 140.3L1587.9 139.9L1589.9 139.6L1591.8 139.2L1593.8 138.8L1595.7 138.5L1597.7 138.1L1599.6 137.7L1601.6 137.4L1603.6 137.0L1605.5 136.7L1607.5 136.3L1609.4 135.9L1611.4 135.6L1613.3 135.2L1615.3 134.9L1617.2 134.5L1619.2 134.2L1621.2 133.8L1623.1 133.5L1625.1 133.1L1627.0 132.8L1629.0 132.4L1631.0 132.1L1632.9 131.7L1634.9 131.4L1636.8 131.0L1638.8 130.7L1640.8 130.3L1642.7 130.0L1644.7 129.7L1646.6 129.3L1648.6 129.0L1650.6 128.6L1652.5 128.3L1654.5 128.0L1656.5 127.6L1658.4 127.3L1660.4 127.0L1662.4 126.6L1664.3 126.3L1666.3 126.0L1668.3 125.6L1670.2 125.3L1672.2 125.0L1674.2 124.7L1676.1 124.3L1678.1 124.0L1680.1 123.7L1682.0 123.3L1684.0 123.0L1686.0 122.7L1687.9 122.4L1689.9 122.1L1691.9 121.7L1693.9 121.4L1695.8 121.1L1697.8 120.8L1699.8 120.4L1701.8 120.1L1703.7 119.8L1705.7 119.5L1707.7 119.2L1709.6 118.9L1711.6 118.5L1713.6 118.2L1715.6 117.9L1717.6 117.6L1719.5 117.3L1721.5 117.0L1723.5 116.7L1725.5 116.3L1727.4 116.0L1729.4 115.7L1731.4 115.4L1733.4 115.1L1735.4 114.8L1737.3 114.5L1739.3 114.2L1741.3 113.9L1743.3 113.5L1745.3 113.2L1747.3 112.9L1749.2 112.6L1751.2 112.3L1753.2 112.0L1755.2 111.7L1757.2 111.4L1759.2 111.1L1761.2 110.8L1763.1 110.5L1765.1 110.2L1767.1 109.9L1769.1 109.6L1771.1 109.3L1773.1 108.9L1775.1 108.6L1777.1 108.3L1779.1 108.0L1781.1 107.7L1783.0 107.4L1785.0 107.1L1787.0 106.8L1789.0 106.5L1791.0 106.2L1793.0 105.9L1795.0 105.6L1797.0 105.3L1799.0 105.0L1801.0 104.7L1803.0 104.4L1805.0 104.1L1807.0 103.8L1809.0 103.5L1811.0 103.2L1813.0 102.9L1815.0 102.6L1817.0 102.3L1819.0 102.0L1821.0 101.7L1823.0 101.4L1825.0 101.0L1827.0 100.7L1829.0 100.4L1831.0 100.1L1833.0 99.8L1835.0 99.5L1837.0 99.2L1839.0 98.9L1841.0 98.6L1843.0 98.3L1845.1 98.0L1847.1 97.7L1849.1 97.4L1851.1 97.1L1853.1 96.8L1855.1 96.5L1857.1 96.2L1859.1 95.9L1861.1 95.5L1863.2 95.2L1865.2 94.9L1867.2 94.6L1869.2 94.3L1871.2 94.0L1873.2 93.7L1875.2 93.4L1877.3 93.1L1879.3 92.8L1881.3 92.5"/>
<path stroke="#FF00FF" d="M486.2 1334.2L487.0 1332.4L487.7 1330.5L488.4 1328.6L489.2 1326.8L489.9 1324.9L490.6 1323.1L491.4 1321.2L492.1 1319.4L492.9 1317.5L493.7 1315.7L494.5 1313.8L495.2 1312.0L496.0 1310.1L496.8 1308.3L497.6 1306.5L498.4 1304.6L499.2 1302.8L500.0 1301.0L500.8 1299.1L501.6 1297.3L502.5 1295.5L503.3 1293.7L504.1 1291.9L504.9 1290.0L505.8 1288.2L506.6 1286.4L507.5 1284.6L508.3 1282.8L509.2 1281.0L510.0 1279.2L510.9 1277.4L511.8 1275.6L512.6 1273.8L513.5 1272.0L514.4 1270.2L515.3 1268.4L516.2 1266.6L517.0 1264.8L517.9 1263.0L518.8 1261.2L519.7 1259.4L520.6 1257.6L521.5 1255.8L522.4 1254.0L523.3 1252.2L524.2 1250.5L525.2 1248.7L526.1 1246.9L527.0 1245.1L527.9 1243.3L528.8 1241.6L529.8 1239.8L530.7 1238.0L531.6 1236.2L532.6 1234.5L533.5 1232.7L534.4 1230.9L535.4 1229.1L536.3 1227.4L537.2 1225.6L538.2 1223.8L539.1 1222.1L540.1 1220.3L541.0 1218.5L542.0 1216.8L542.9 1215.0L543.9 1213.2L544.8 1211.5L545.8 1209.7L546.7 1207.9L547.7 1206.2L548.6 1204.4L549.6 1202.6L550.6 1200.9L551.5 1199.1L552.5 1197.3L553.4 1195.6L554.4 1193.8L555.4 1192.1L556.3 1190.3L557.3 1188.5L558.2 1186.8L559.2 1185.0L560.2 1183.3L561.1 1181.5L562.1 1179.7L563.1 1178.0L564.0 1176.2L565.0 1174.4L565.9 1172.7L566.9 1170.9L567.8 1169.2L568.8 1167.4L569.8 1165.6L570.7 1163.9L571.7 1162.1L572.6 1160.3L573.6 1158.6L574.5 1156.8L575.5 1155.1L576.4 1153.3L577.4 1151.5L578.3 1149.8L579.3 1148.0L580.2 1146.2L581.2 1144.5L582.1 1142.7L583.1 1140.9L584.0 1139.1L584.9 1137.4L585.9 1135.6L586.8 1133.8L587.7 1132.1L588.7 1130.3L589.6 1128.5L590.5 1126.7L591.4 1124.9L592.4 1123.2L593.3 1121.4L594.2 1119.6L595.1 1117.8L596.0 1116.0L596.9 1114.3L597.8 1112.5L598.7 1110.7L599.6 1108.9L600.5 1107.1L601.4 1105.3L602.3 1103.5L603.2 1101.7L604.1 1099.9L604.9 1098.1L605.8 1096.3L606.7 1094.5L607.5 1092.7L608.4 1090.9L609.3 1089.1L610.1 1087.3L611.0 1085.5L611.8 1083.7L612.7 1081.9L613.5 1080.1L614.4 1078.3L615.2 1076.5L616.1 1074.7L616.9 1072.9L617.7 1071.0L618.6 1069.2L619.4 1067.4L620.2 1065.6L621.0 1063.8L621.8 1061.9L622.7 1060.1L623.5 1058.3L624.3 1056.5L625.1 1054.6L625.9 1052.8L626.7 1051.0L627.5 1049.2L628.3 1047.3L629.1 1045.5L629.9 1043.7L630.7 1041.8L631.5 1040.0L632.2 1038.1L633.0 1036.3L633.8 1034.5L634.6 1032.6L635.4 1030.8L636.1 1029.0L636.9 1027.1L637.7 1025.3L638.4 1023.4L639.2 1021.6L640.0 1019.7L640.7 1017.9L641.5 1016.0L642.2 1014.2L643.0 1012.3L643.7 1010.5L644.5 1008.6L645.2 1006.8L646.0 1004.9L646.7 1003.1L647.5 1001.2L648.2 999.4L648.9 997.5L649.7 995.6L650.4 993.8L651.2 991.9L651.9 990.1L652.6 988.2L653.3 986.3L654.1 984.5L654.8 982.6L655.5 980.8L656.2 978.9L657.0 977.0L657.7 975.2L658.4 973.3L659.1 971.4L659.8 969.6L660.5 967.7L661.3 965.8L662.0 964.0L662.7 962.1L663.4 960.2L664.1 958.4L664.8 956.5L665.5 954.6L666.2 952.7L666.9 950.9L667.6 949.0L668.3 947.1L669.0 945.2L669.7 943.4L670.4 941.5L671.1 939.6L671.8 937.7L672.5 935.9L673.2 934.0L673.9 932.1L674.6 930.2L675.3 928.4L676.0 926.5L676.7 924.6L677.4 922.7L678.0 920.8L678.7 919.0L679.4 917.1L680.1 915.2L680.8 913.3L681.5 911.4L682.2 909.6L682.9 907.7L683.5 905.8L684.2 903.9L684.9 902.0L685.6 900.2L686.3 898.3L687.0 896.4L687.6 894.5L688.3 892.6L689.0 890.8L689.7 888.9L690.4 887.0L691.1 885.1L691.7 883.2L692.4 881.3L693.1 879.5L693.8 877.6L694.5 875.7L695.2 873.8L695.8 871.9L696.5 870.0L697.2 868.2L697.9 866.3L698.6 864.4L699.2 862.5L699.9 860.6L700.6 858.7L701.3 856.9L702.0 855.0L702.7 853.1L703.4 851.2L704.0 849.3L704.7 847.4L705.4 845.6L706.1 843.7L706.8 841.8L707.5 839.9L708.2 838.0L708.9 836.2L709.5 834.3L710.2 832.4L710.9 830.5L711.6 828.6L712.3 826.8L713.0 824.9L713.7 823.0L714.4 821.1L715.1 819.2L715.8 817.4L716.5 815.5L717.2 813.6L717.9 811.7L718.6 809.9L719.3 808.0L720.0 806.1L720.7 804.2L721.4 802.4L722.1 800.5L722.8 798.6L723.5 796.8L724.2 794.9L725.0 793.0L725.7 791.1L726.4 789.3L727.1 787.4L727.8 785.5L728.5 783.7L729.3 781.8L730.0 779.9L730.7 778.1L731.4 776.2L732.2 774.3L732.9 772.5L733.6 770.6L734.4 768.8L735.1 766.9L735.8 765.0L736.6 763.2L737.3 761.3L738.0 759.5L738.8 757.6L739.5 755.7L740.3 753.9L741.0 752.0L741.8 750.2L742.5 748.3L743.3 746.5L744.0 744.6L744.8 742.8L745.6 740.9L746.3 739.1L747.1 737.3L747.9 735.4L748.6 733.6L749.4 731.7L750.2 729.9L751.0 728.0L751.7 726.2L752.5 724.4L753.3 722.5L754.1 720.7L754.9 718.9L755.7 717.0L756.5 715.2L757.3 713.4L758.1 711.5L758.9 709.7L759.7 707.9L760.5 706.1L761.3 704.2L762.1 702.4L762.9 700.6L763.7 698.8L764.6 697.0L765.4 695.2L766.2 693.3L767.0 691.5L767.9 689.7L768.7 687.9L769.6 686.1L770.4 684.3L771.2 682.5L772.1 680.7L772.9 678.9L773.8 677.1L774.7 675.3L775.5 673.5L776.4 671.7L777.3 669.9L778.1 668.1L779.0 666.3L779.9 664.5L780.8 662.7L781.6 660.9L782.5 659.2L783.4 657.4L784.3 655.6L785.2 653.8L786.1 652.0L787.0 650.3L787.9 648.5L788.8 646.7L789.8 644.9L790.7 643.2L791.6 641.4L792.5 639.6L793.4 637.9L794.4 636.1L795.3 634.3L796.2 632.6L797.1 630.8L798.1 629.0L799.0 627.3L799.9 625.5L800.9 623.8L801.8 622.0L802.8 620.2L803.7 618.5L804.6 616.7L805.6 615.0L806.5 613.2L807.5 611.4L808.4 609.7L809.4 607.9L810.3 606.2L811.3 604.4L812.2 602.7L813.2 600.9L814.1 599.1L815.0 597.4L816.0 595.6L816.9 593.9L817.9 592.1L818.8 590.4L819.8 588.6L820.7 586.8L821.7 585.1L822.6 583.3L823.6 581.6L824.5 579.8L825.5 578.0L826.4 576.3L827.3 574.5L828.3 572.7L829.2 571.0L830.2 569.2L831.1 567.4L832.0 565.7L833.0 563.9L833.9 562.1L834.8 560.4L835.7 558.6L836.7 556.8L837.6 555.0L838.5 553.3L839.5 551.5L840.4 549.7L841.3 547.9L842.2 546.2L843.1 544.4L844.1 542.6L845.0 540.8L845.9 539.0L846.8 537.3L847.7 535.5L848.7 533.7L849.6 531.9L850.5 530.1L851.4 528.3L852.3 526.6L853.3 524.8L854.2 523.0L855.1 521.2L856.0 519.4L857.0 517.6L857.9 515.8L858.8 514.1L859.7 512.3L860.6 510.5L861.6 508.7L862.5 506.9L863.4 505.1L864.4 503.3L865.3 501.5L866.2 499.8L867.1 498.0L868.1 496.2L869.0 494.4L869.9 492.6L870.9 490.8L871.8 489.0L872.8 487.2L873.7 485.5L874.6 483.7L875.6 481.9L876.5 480.1L877.5 478.3L878.4 476.5L879.4 474.7L880.3 473.0L881.3 471.2L882.3 469.4L883.2 467.6L884.2 465.8L885.1 464.1L886.1 462.3L887.1 460.5L888.1 458.7L889.0 456.9L890.0 455.2L891.0 453.4L892.0 451.6L893.0 449.9L894.0 448.1L895.0 446.3L896.0 444.6L897.0 442.8L898.0 441.1L899.0 439.3L900.0 437.6L901.1 435.8L902.1 434.1L903.1 432.4L904.1 430.6L905.2 428.9L906.2 427.2L907.3 425.4L908.3 423.7L909.4 422.0L910.5 420.3L911.5 418.6L912.6 416.9L913.7 415.2L914.8 413.5L915.8 411.8L916.9 410.1L918.0 408.4L919.1 406.7L920.2 405.1L921.4 403.4L922.5 401.7L923.6 400.1L924.8 398.4L925.9 396.8L927.0 395.1L928.2 393.5L929.4 391.9L930.5 390.3L931.7 388.7L932.9 387.0L934.1 385.4L935.2 383.8L936.4 382.3L937.7 380.7L938.9 379.1L940.1 377.5L941.3 376.0L942.6 374.4L943.8 372.9L945.1 371.3L946.3 369.8L947.6 368.3L948.9 366.8L950.1 365.2L951.4 363.7L952.7 362.3L954.0 360.8L955.3 359.3L956.7 357.8L958.0 356.4L959.3 354.9L960.7 353.5L962.0 352.0L963.4 350.6L964.8 349.2L966.2 347.8L967.6 346.4L969.0 345.0L970.4 343.6L971.8 342.3L973.2 340.9L974.6 339.5L976.1 338.2L977.5 336.8L979.0 335.5L980.5 334.2L981.9 332.9L983.4 331.6L984.9 330.3L986.4 329.0L987.9 327.7L989.4 326.4L990.9 325.2L992.4 323.9L994.0 322.6L995.5 321.4L997.0 320.2L998.6 318.9L1000.1 317.7L1001.7 316.5L1003.3 315.3L1004.8 314.1L1006.4 312.9L1008.0 311.7L1009.6 310.5L1011.2 309.4L1012.8 308.2L1014.4 307.0L1016.0 305.9L1017.7 304.7L1019.3 303.6L1020.9 302.5L1022.6 301.4L1024.2 300.2L1025.9 299.1L1027.5 298.0L1029.2 296.9L1030.9 295.9L1032.6 294.8L1034.2 293.7L1035.9 292.6L1037.6 291.6L1039.3 290.5L1041.0 289.5L1042.7 288.4L1044.4 287.4L1046.1 286.3L1047.9 285.3L1049.6 284.3L1051.3 283.3L1053.0 282.3L1054.8 281.3L1056.5 280.3L1058.3 279.3L1060.0 278.3L1061.8 277.3L1063.5 276.4L1065.3 275.4L1067.1 274.4L1068.8 273.5L1070.6 272.5L1072.4 271.6L1074.2 270.6L1075.9 269.7L1077.7 268.8L1079.5 267.9L1081.3 266.9L1083.1 266.0L1084.9 265.1L1086.7 264.2L1088.5 263.3L1090.3 262.4L1092.1 261.5L1094.0 260.7L1095.8 259.8L1097.6 258.9L1099.4 258.0L1101.2 257.2L1103.1 256.3L1104.9 255.5L1106.7 254.6L1108.6 253.8L1110.4 252.9L1112.2 252.1L1114.1 251.3L1115.9 250.4L1117.8 249.6L1119.6 248.8L1121.4 248.0L1123.3 247.2L1125.1 246.4L1127.0 245.5L1128.9 244.7L1130.7 244.0L1132.6 243.2L1134.4 242.4L1136.3 241.6L1138.1 240.8L1140.0 240.0L1141.9 239.3L1143.7 238.5L1145.6 237.7L1147.4 237.0L1149.3 236.2L1151.2 235.5L1153.0 234.7L1154.9 234.0L1156.8 233.2L1158.7 232.5L1160.5 231.7L1162.4 231.0L1164.3 230.3L1166.2 229.6L1168.0 228.8L1169.9 228.1L1171.8 227.4L1173.7 226.7L1175.5 226.0L1177.4 225.3L1179.3 224.6L1181.2 223.9L1183.1 223.2L1185.0 222.5L1186.9 221.8L1188.7 221.1L1190.6 220.5L1192.5 219.8L1194.4 219.1L1196.3 218.4L1198.2 217.8L1200.1 217.1L1202.0 216.4L1203.9 215.8L1205.8 215.1L1207.7 214.5L1209.6 213.8L1211.5 213.2L1213.4 212.5L1215.3 211.9L1217.2 211.3L1219.1 210.6L1221.0 210.0L1222.9 209.4L1224.8 208.8L1226.7 208.1L1228.6 207.5L1230.5 206.9L1232.4 206.3L1234.3 205.7L1236.2 205.1L1238.1 204.5L1240.1 203.9L1242.0 203.3L1243.9 202.7L1245.8 202.1L1247.7 201.5L1249.6 200.9L1251.5 200.3L1253.5 199.8L1255.4 199.2L1257.3 198.6L1259.2 198.0L1261.1 197.5L1263.1 196.9L1265.0 196.3L1266.9 195.8L1268.8 195.2L1270.8 194.7L1272.7 194.1L1274.6 193.6L1276.5 193.0L1278.5 192.5L1280.4 191.9L1282.3 191.4L1284.2 190.8L1286.2 190.3L1288.1 189.8L1290.0 189.2L1292.0 188.7L1293.9 188.2L1295.8 187.7L1297.8 187.1L1299.7 186.6L1301.6 186.1L1303.6 185.6L1305.5 185.1L1307.4 184.6L1309.4 184.0L1311.3 183.5L1313.2 183.0L1315.2 182.5L1317.1 182.0L1319.1 181.5L1321.0 181.0L1322.9 180.6L1324.9 180.1L1326.8 179.6L1328.8 179.1L1330.7 178.6L1332.7 178.1L1334.6 177.6L1336.5 177.2L1338.5 176.7L1340.4 176.2L1342.4 175.7L1344.3 175.3L1346.3 174.8L1348.2 174.3L1350.2 173.9L1352.1 173.4L1354.1 172.9L1356.0 172.5L1358.0 172.0L1359.9 171.6L1361.9 171.1L1363.8 170.7L1365.8 170.2L1367.7 169.8L1369.7 169.3L1371.6 168.9L1373.6 168.4L1375.5 168.0L1377.5 167.5L1379.4 167.1L1381.4 166.7L1383.3 166.2L1385.3 165.8L1387.2 165.4L1389.2 164.9L1391.2 164.5L1393.1 164.1L1395.1 163.7L1397.0 163.2L1399.0 162.8L1400.9 162.4L1402.9 162.0L1404.8 161.5L1406.8 161.1L1408.8 160.7L1410.7 160.3L1412.7 159.9L1414.6 159.5L1416.6 159.1L1418.6 158.6L1420.5 158.2L1422.5 157.8L1424.4 157.4L1426.4 157.0L1428.4 156.6L1430.3 156.2L1432.3 155.8L1434.2 155.4L1436.2 155.0L1438.2 154.6L1440.1 154.2L1442.1 153.8L1444.0 153.4L1446.0 153.1L1448.0 152.7L1449.9 152.3L1451.9 151.9L1453.9 151.5L1455.8 151.1L1457.8 150.7L1459.8 150.4L1461.7 150.0L1463.7 149.6L1465.6 149.2L1467.6 148.8L1469.6 148.5L1471.5 148.1L1473.5 147.7L1475.5 147.4L1477.4 147.0L1479.4 146.6L1481.4 146.2L1483.3 145.9L1485.3 145.5L1487.3 145.2L1489.2 144.8L1491.2 144.4L1493.2 144.1L1495.2 143.7L1497.1 143.3L1499.1 143.0L1501.1 142.6L1503.0 142.3L1505.0 141.9L1507.0 141.6L1508.9 141.2L1510.9 140.9L1512.9 140.5L1514.9 140.2L1516.8 139.8L1518.8 139.5L1520.8 139.1L1522.7 138.8L1524.7 138.5L1526.7 138.1L1528.7 137.8L1530.6 137.4L1532.6 137.1L1534.6 136.8L1536.5 136.4L1538.5 136.1L1540.5 135.8L1542.5 135.4L1544.4 135.1L1546.4 134.8L1548.4 134.4L1550.4 134.1L1552.3 133.8L1554.3 133.5L1556.3 133.1L1558.3 132.8L1560.2 132.5L1562.2 132.2L1564.2 131.9L1566.2 131.5L1568.1 131.2L1570.1 130.9L1572.1 130.6L1574.1 130.3L1576.0 130.0L1578.0 129.7L1580.0 129.3L1582.0 129.0L1584.0 128.7L1585.9 128.4L1587.9 128.1L1589.9 127.8L1591.9 127.5L1593.9 127.2L1595.8 126.9L1597.8 126.6L1599.8 126.3L1601.8 126.0L1603.7 125.7L1605.7 125.4L1607.7 125.1L1609.7 124.8L1611.7 124.5L1613.6 124.2L1615.6 123.9L1617.6 123.6L1619.6 123.3L1621.6 123.0L1623.6 122.7L1625.5 122.5L1627.5 122.2L1629.5 121.9L1631.5 121.6L1633.5 121.3L1635.4 121.0L1637.4 120.7L1639.4 120.5L1641.4 120.2L1643.4 119.9L1645.4 119.6L1647.3 119.3L1649.3 119.1L1651.3 118.8L1653.3 118.5L1655.3 118.2L1657.3 118.0L1659.2 117.7L1661.2 117.4L1663.2 117.1L1665.2 116.9L1667.2 116.6L1669.2 116.3L1671.1 116.1L1673.1 115.8L1675.1 115.5L1677.1 115.3L1679.1 115.0L1681.1 114.7L1683.1 114.5L1685.0 114.2L1687.0 113.9L1689.0 113.7L1691.0 113.4L1693.0 113.2L1695.0 112.9L1697.0 112.6L1698.9 112.4L1700.9 112.1L1702.9 111.9L1704.9 111.6L1706.9 111.4L1708.9 111.1L1710.9 110.9L1712.9 110.6L1714.8 110.4L1716.8 110.1L1718.8 109.9L1720.8 109.6L1722.8 109.4L1724.8 109.1L1726.8 108.9L1728.8 108.6L1730.8 108.4L1732.7 108.1L1734.7 107.9L1736.7 107.6L1738.7 107.4L1740.7 107.2L1742.7 106.9L1744.7 106.7L1746.7 106.4L1748.7 106.2L1750.6 106.0L1752.6 105.7L1754.6 105.5L1756.6 105.2L1758.6 105.0L1760.6 104.8L1762.6 104.5L1764.6 104.3L1766.6 104.1L1768.6 103.8L1770.6 103.6L1772.5 103.4L1774.5 103.1L1776.5 102.9L1778.5 102.7L1780.5 102.4L1782.5 102.2L1784.5 102.0L1786.5 101.8L1788.5 101.5L1790.5 101.3L1792.5 101.1L1794.4 100.9L1796.4 100.6L1798.4 100.4L1800.4 100.2L1802.4 100.0L1804.4 99.7L1806.4 99.5L1808.4 99.3L1810.4 99.1L1812.4 98.9L1814.4 98.6L1816.4 98.4L1818.4 98.2L1820.3 98.0L1822.3 97.8L1824.3 97.5L1826.3 97.3L1828.3 97.1L1830.3 96.9L1832.3 96.7L1834.3 96.5L1836.3 96.2L1838.3 96.0L1840.3 95.8L1842.3 95.6L1844.3 95.4L1846.3 95.2L1848.3 95.0L1850.3 94.8L1852.2 94.5L1854.2 94.3L1856.2 94.1L1858.2 93.9L1860.2 93.7L1862.2 93.5L1864.2 93.3L1866.2 93.1L1868.2 92.9L1870.2 92.7L1872.2 92.5L1874.2 92.3L1876.2 92.0"/>
<path stroke="#FF0000" d="M400.3 1334.5L401.4 1332.9L402.5 1331.2L403.6 1329.5L404.7 1327.8L405.8 1326.2L406.9 1324.5L408.0 1322.8L409.1 1321.1L410.2 1319.5L411.2 1317.8L412.3 1316.1L413.4 1314.4L414.5 1312.7L415.5 1311.1L416.6 1309.4L417.7 1307.7L418.8 1306.0L419.8 1304.3L420.9 1302.6L422.0 1300.9L423.0 1299.2L424.1 1297.6L425.1 1295.9L426.2 1294.2L427.3 1292.5L428.3 1290.8L429.4 1289.1L430.4 1287.4L431.5 1285.7L432.5 1284.0L433.6 1282.3L434.6 1280.6L435.7 1278.9L436.7 1277.2L437.7 1275.5L438.8 1273.8L439.8 1272.0L440.8 1270.3L441.9 1268.6L442.9 1266.9L443.9 1265.2L445.0 1263.5L446.0 1261.8L447.0 1260.1L448.1 1258.3L449.1 1256.6L450.1 1254.9L451.1 1253.2L452.1 1251.5L453.2 1249.7L454.2 1248.0L455.2 1246.3L456.2 1244.6L457.2 1242.9L458.2 1241.1L459.2 1239.4L460.2 1237.7L461.3 1235.9L462.3 1234.2L463.3 1232.5L464.3 1230.8L465.3 1229.0L466.3 1227.3L467.3 1225.6L468.3 1223.8L469.2 1222.1L470.2 1220.3L471.2 1218.6L472.2 1216.9L473.2 1215.1L474.2 1213.4L475.2 1211.6L476.2 1209.9L477.1 1208.2L478.1 1206.4L479.1 1204.7L480.1 1202.9L481.1 1201.2L482.0 1199.4L483.0 1197.7L484.0 1195.9L485.0 1194.2L485.9 1192.4L486.9 1190.7L487.9 1188.9L488.8 1187.2L489.8 1185.4L490.8 1183.7L491.7 1181.9L492.7 1180.2L493.7 1178.4L494.6 1176.6L495.6 1174.9L496.5 1173.1L497.5 1171.4L498.4 1169.6L499.4 1167.8L500.3 1166.1L501.3 1164.3L502.2 1162.6L503.2 1160.8L504.1 1159.0L505.1 1157.3L506.0 1155.5L507.0 1153.7L507.9 1152.0L508.8 1150.2L509.8 1148.4L510.7 1146.6L511.7 1144.9L512.6 1143.1L513.5 1141.3L514.5 1139.6L515.4 1137.8L516.3 1136.0L517.2 1134.2L518.2 1132.4L519.1 1130.7L520.0 1128.9L520.9 1127.1L521.9 1125.3L522.8 1123.6L523.7 1121.8L524.6 1120.0L525.6 1118.2L526.5 1116.4L527.4 1114.6L528.3 1112.9L529.2 1111.1L530.1 1109.3L531.0 1107.5L531.9 1105.7L532.9 1103.9L533.8 1102.1L534.7 1100.4L535.6 1098.6L536.5 1096.8L537.4 1095.0L538.3 1093.2L539.2 1091.4L540.1 1089.6L541.0 1087.8L541.9 1086.0L542.8 1084.2L543.7 1082.4L544.6 1080.7L545.5 1078.9L546.4 1077.1L547.3 1075.3L548.1 1073.5L549.0 1071.7L549.9 1069.9L550.8 1068.1L551.7 1066.3L552.6 1064.5L553.5 1062.7L554.4 1060.9L555.2 1059.1L556.1 1057.3L557.0 1055.5L557.9 1053.7L558.8 1051.9L559.6 1050.1L560.5 1048.3L561.4 1046.5L562.3 1044.7L563.1 1042.8L564.0 1041.0L564.9 1039.2L565.8 1037.4L566.6 1035.6L567.5 1033.8L568.4 1032.0L569.2 1030.2L570.1 1028.4L571.0 1026.6L571.8 1024.8L572.7 1023.0L573.5 1021.1L574.4 1019.3L575.3 1017.5L576.1 1015.7L577.0 1013.9L577.8 1012.1L578.7 1010.3L579.6 1008.5L580.4 1006.6L581.3 1004.8L582.1 1003.0L583.0 1001.2L583.8 999.4L584.7 997.6L585.5 995.8L586.4 993.9L587.2 992.1L588.1 990.3L588.9 988.5L589.8 986.7L590.6 984.9L591.5 983.0L592.3 981.2L593.1 979.4L594.0 977.6L594.8 975.8L595.7 973.9L596.5 972.1L597.4 970.3L598.2 968.5L599.0 966.7L599.9 964.8L600.7 963.0L601.5 961.2L602.4 959.4L603.2 957.5L604.0 955.7L604.9 953.9L605.7 952.1L606.5 950.3L607.4 948.4L608.2 946.6L609.0 944.8L609.8 943.0L610.7 941.1L611.5 939.3L612.3 937.5L613.1 935.7L614.0 933.8L614.8 932.0L615.6 930.2L616.4 928.3L617.3 926.5L618.1 924.7L618.9 922.9L619.7 921.0L620.5 919.2L621.4 917.4L622.2 915.6L623.0 913.7L623.8 911.9L624.6 910.1L625.4 908.2L626.3 906.4L627.1 904.6L627.9 902.8L628.7 900.9L629.5 899.1L630.3 897.3L631.1 895.4L631.9 893.6L632.8 891.8L633.6 890.0L634.4 888.1L635.2 886.3L636.0 884.5L636.8 882.6L637.6 880.8L638.4 879.0L639.2 877.1L640.0 875.3L640.8 873.5L641.6 871.7L642.4 869.8L643.2 868.0L644.0 866.2L644.8 864.3L645.6 862.5L646.4 860.7L647.2 858.8L648.0 857.0L648.8 855.2L649.6 853.3L650.4 851.5L651.2 849.7L652.0 847.8L652.8 846.0L653.6 844.2L654.4 842.4L655.2 840.5L656.0 838.7L656.8 836.9L657.6 835.0L658.4 833.2L659.2 831.4L660.0 829.5L660.8 827.7L661.6 825.9L662.3 824.0L663.1 822.2L663.9 820.4L664.7 818.5L665.5 816.7L666.3 814.9L667.1 813.1L667.9 811.2L668.7 809.4L669.5 807.6L670.2 805.7L671.0 803.9L671.8 802.1L672.6 800.2L673.4 798.4L674.2 796.6L675.0 794.7L675.8 792.9L676.5 791.1L677.3 789.3L678.1 787.4L678.9 785.6L679.7 783.8L680.5 781.9L681.3 780.1L682.0 778.3L682.8 776.4L683.6 774.6L684.4 772.8L685.2 771.0L686.0 769.1L686.8 767.3L687.6 765.5L688.3 763.6L689.1 761.8L689.9 760.0L690.7 758.1L691.5 756.3L692.3 754.5L693.1 752.7L693.8 750.8L694.6 749.0L695.4 747.2L696.2 745.3L697.0 743.5L697.8 741.7L698.6 739.9L699.4 738.0L700.2 736.2L700.9 734.4L701.7 732.5L702.5 730.7L703.3 728.9L704.1 727.1L704.9 725.2L705.7 723.4L706.5 721.6L707.3 719.7L708.1 717.9L708.9 716.1L709.7 714.3L710.5 712.4L711.3 710.6L712.0 708.8L712.8 707.0L713.6 705.1L714.4 703.3L715.2 701.5L716.0 699.6L716.8 697.8L717.6 696.0L718.4 694.2L719.2 692.3L720.0 690.5L720.8 688.7L721.6 686.9L722.5 685.0L723.3 683.2L724.1 681.4L724.9 679.6L725.7 677.7L726.5 675.9L727.3 674.1L728.1 672.2L728.9 670.4L729.7 668.6L730.5 666.8L731.4 664.9L732.2 663.1L733.0 661.3L733.8 659.5L734.6 657.6L735.4 655.8L736.2 654.0L737.1 652.2L737.9 650.3L738.7 648.5L739.5 646.7L740.4 644.9L741.2 643.1L742.0 641.2L742.8 639.4L743.7 637.6L744.5 635.8L745.3 633.9L746.2 632.1L747.0 630.3L747.8 628.5L748.7 626.6L749.5 624.8L750.3 623.0L751.2 621.2L752.0 619.3L752.8 617.5L753.7 615.7L754.5 613.9L755.4 612.1L756.2 610.2L757.1 608.4L757.9 606.6L758.8 604.8L759.6 603.0L760.5 601.1L761.3 599.3L762.2 597.5L763.0 595.7L763.9 593.8L764.8 592.0L765.6 590.2L766.5 588.4L767.3 586.6L768.2 584.7L769.1 582.9L770.0 581.1L770.8 579.3L771.7 577.5L772.6 575.7L773.4 573.8L774.3 572.0L775.2 570.2L776.1 568.4L777.0 566.6L777.9 564.8L778.7 562.9L779.6 561.1L780.5 559.3L781.4 557.5L782.3 555.7L783.2 553.9L784.1 552.1L785.0 550.3L785.9 548.5L786.8 546.7L787.7 544.8L788.6 543.0L789.6 541.2L790.5 539.4L791.4 537.6L792.3 535.8L793.2 534.0L794.2 532.2L795.1 530.4L796.0 528.7L796.9 526.9L797.9 525.1L798.8 523.3L799.8 521.5L800.7 519.7L801.6 517.9L802.6 516.1L803.5 514.4L804.5 512.6L805.4 510.8L806.4 509.0L807.4 507.2L808.3 505.5L809.3 503.7L810.3 501.9L811.2 500.2L812.2 498.4L813.2 496.6L814.2 494.9L815.2 493.1L816.2 491.4L817.1 489.6L818.1 487.8L819.1 486.1L820.1 484.3L821.1 482.6L822.2 480.9L823.2 479.1L824.2 477.4L825.2 475.6L826.2 473.9L827.2 472.2L828.3 470.4L829.3 468.7L830.3 467.0L831.4 465.3L832.4 463.5L833.5 461.8L834.5 460.1L835.6 458.4L836.6 456.7L837.7 455.0L838.8 453.3L839.8 451.6L840.9 449.9L842.0 448.2L843.1 446.5L844.1 444.8L845.2 443.1L846.3 441.5L847.4 439.8L848.5 438.1L849.6 436.4L850.7 434.8L851.8 433.1L853.0 431.4L854.1 429.8L855.2 428.1L856.3 426.5L857.5 424.8L858.6 423.2L859.7 421.5L860.9 419.9L862.0 418.3L863.2 416.6L864.4 415.0L865.5 413.4L866.7 411.8L867.9 410.2L869.0 408.6L870.2 406.9L871.4 405.3L872.6 403.7L873.8 402.1L875.0 400.6L876.2 399.0L877.4 397.4L878.6 395.8L879.8 394.2L881.1 392.7L882.3 391.1L883.5 389.5L884.8 388.0L886.0 386.4L887.3 384.9L888.5 383.3L889.8 381.8L891.0 380.2L892.3 378.7L893.6 377.2L894.9 375.7L896.2 374.2L897.4 372.6L898.7 371.1L900.0 369.6L901.4 368.1L902.7 366.6L904.0 365.1L905.3 363.7L906.6 362.2L908.0 360.7L909.3 359.2L910.6 357.8L912.0 356.3L913.4 354.9L914.7 353.4L916.1 352.0L917.4 350.5L918.8 349.1L920.2 347.7L921.6 346.3L923.0 344.8L924.4 343.4L925.8 342.0L927.2 340.6L928.6 339.2L930.0 337.9L931.5 336.5L932.9 335.1L934.3 333.7L935.8 332.4L937.2 331.0L938.7 329.7L940.1 328.3L941.6 327.0L943.1 325.7L944.6 324.4L946.0 323.0L947.5 321.7L949.0 320.4L950.5 319.1L952.0 317.9L953.5 316.6L955.1 315.3L956.6 314.0L958.1 312.8L959.6 311.5L961.2 310.3L962.7 309.0L964.3 307.8L965.8 306.6L967.4 305.4L969.0 304.2L970.5 303.0L972.1 301.8L973.7 300.6L975.3 299.4L976.9 298.3L978.5 297.1L980.1 295.9L981.7 294.8L983.4 293.7L985.0 292.5L986.6 291.4L988.3 290.3L989.9 289.2L991.6 288.1L993.2 287.0L994.9 285.9L996.6 284.9L998.2 283.8L999.9 282.8L1001.6 281.7L1003.3 280.7L1005.0 279.7L1006.7 278.6L1008.4 277.6L1010.1 276.6L1011.9 275.6L1013.6 274.7L1015.3 273.7L1017.1 272.7L1018.8 271.8L1020.6 270.8L1022.3 269.9L1024.1 268.9L1025.8 268.0L1027.6 267.1L1029.4 266.2L1031.1 265.2L1032.9 264.3L1034.7 263.4L1036.5 262.6L1038.3 261.7L1040.1 260.8L1041.9 259.9L1043.7 259.1L1045.5 258.2L1047.3 257.4L1049.1 256.5L1051.0 255.7L1052.8 254.9L1054.6 254.0L1056.4 253.2L1058.3 252.4L1060.1 251.6L1061.9 250.8L1063.8 250.0L1065.6 249.2L1067.4 248.4L1069.3 247.6L1071.1 246.8L1073.0 246.1L1074.8 245.3L1076.7 244.5L1078.5 243.8L1080.4 243.0L1082.3 242.3L1084.1 241.5L1086.0 240.8L1087.8 240.0L1089.7 239.3L1091.6 238.6L1093.4 237.8L1095.3 237.1L1097.2 236.4L1099.0 235.7L1100.9 235.0L1102.8 234.3L1104.7 233.6L1106.5 232.9L1108.4 232.2L1110.3 231.5L1112.2 230.8L1114.1 230.1L1116.0 229.4L1117.8 228.8L1119.7 228.1L1121.6 227.4L1123.5 226.8L1125.4 226.1L1127.3 225.5L1129.2 224.8L1131.1 224.2L1133.0 223.5L1134.9 222.9L1136.8 222.2L1138.7 221.6L1140.6 221.0L1142.5 220.3L1144.4 219.7L1146.3 219.1L1148.2 218.5L1150.1 217.9L1152.0 217.3L1153.9 216.7L1155.9 216.1L1157.8 215.5L1159.7 214.9L1161.6 214.3L1163.5 213.7L1165.4 213.1L1167.3 212.5L1169.3 211.9L1171.2 211.4L1173.1 210.8L1175.0 210.2L1177.0 209.6L1178.9 209.1L1180.8 208.5L1182.7 208.0L1184.7 207.4L1186.6 206.9L1188.5 206.3L1190.5 205.8L1192.4 205.2L1194.3 204.7L1196.3 204.1L1198.2 203.6L1200.1 203.1L1202.1 202.6L1204.0 202.0L1205.9 201.5L1207.9 201.0L1209.8 200.5L1211.8 200.0L1213.7 199.4L1215.6 198.9L1217.6 198.4L1219.5 197.9L1221.5 197.4L1223.4 196.9L1225.4 196.4L1227.3 195.9L1229.3 195.4L1231.2 194.9L1233.2 194.5L1235.1 194.0L1237.1 193.5L1239.0 193.0L1241.0 192.5L1242.9 192.1L1244.9 191.6L1246.8 191.1L1248.8 190.6L1250.7 190.2L1252.7 189.7L1254.7 189.2L1256.6 188.8L1258.6 188.3L1260.5 187.9L1262.5 187.4L1264.4 187.0L1266.4 186.5L1268.4 186.1L1270.3 185.6L1272.3 185.2L1274.2 184.7L1276.2 184.3L1278.2 183.9L1280.1 183.4L1282.1 183.0L1284.1 182.5L1286.0 182.1L1288.0 181.7L1289.9 181.3L1291.9 180.8L1293.9 180.4L1295.8 180.0L1297.8 179.6L1299.8 179.1L1301.7 178.7L1303.7 178.3L1305.7 177.9L1307.6 177.5L1309.6 177.1L1311.6 176.7L1313.5 176.2L1315.5 175.8L1317.5 175.4L1319.5 175.0L1321.4 174.6L1323.4 174.2L1325.4 173.8L1327.3 173.4L1329.3 173.0L1331.3 172.6L1333.2 172.2L1335.2 171.8L1337.2 171.4L1339.2 171.0L1341.1 170.6L1343.1 170.2L1345.1 169.9L1347.0 169.5L1349.0 169.1L1351.0 168.7L1352.9 168.3L1354.9 167.9L1356.9 167.5L1358.9 167.1L1360.8 166.8L1362.8 166.4L1364.8 166.0L1366.7 165.6L1368.7 165.2L1370.7 164.9L1372.6 164.5L1374.6 164.1L1376.6 163.7L1378.6 163.4L1380.5 163.0L1382.5 162.6L1384.5 162.2L1386.4 161.9L1388.4 161.5L1390.4 161.1L1392.3 160.8L1394.3 160.4L1396.3 160.0L1398.3 159.7L1400.2 159.3L1402.2 158.9L1404.2 158.6L1406.1 158.2L1408.1 157.8L1410.1 157.5L1412.0 157.1L1414.0 156.8L1416.0 156.4L1418.0 156.1L1419.9 155.7L1421.9 155.3L1423.9 155.0L1425.8 154.6L1427.8 154.3L1429.8 153.9L1431.8 153.6L1433.7 153.2L1435.7 152.9L1437.7 152.5L1439.6 152.2L1441.6 151.8L1443.6 151.5L1445.6 151.2L1447.5 150.8L1449.5 150.5L1451.5 150.1L1453.4 149.8L1455.4 149.4L1457.4 149.1L1459.4 148.8L1461.3 148.4L1463.3 148.1L1465.3 147.8L1467.2 147.4L1469.2 147.1L1471.2 146.8L1473.2 146.4L1475.1 146.1L1477.1 145.8L1479.1 145.4L1481.0 145.1L1483.0 144.8L1485.0 144.4L1487.0 144.1L1488.9 143.8L1490.9 143.5L1492.9 143.1L1494.9 142.8L1496.8 142.5L1498.8 142.2L1500.8 141.9L1502.7 141.5L1504.7 141.2L1506.7 140.9L1508.7 140.6L1510.6 140.3L1512.6 139.9L1514.6 139.6L1516.6 139.3L1518.5 139.0L1520.5 138.7L1522.5 138.4L1524.5 138.1L1526.4 137.8L1528.4 137.5L1530.4 137.1L1532.4 136.8L1534.3 136.5L1536.3 136.2L1538.3 135.9L1540.3 135.6L1542.2 135.3L1544.2 135.0L1546.2 134.7L1548.2 134.4L1550.1 134.1L1552.1 133.8L1554.1 133.5L1556.1 133.2L1558.0 132.9L1560.0 132.6L1562.0 132.3L1564.0 132.0L1565.9 131.7L1567.9 131.4L1569.9 131.1L1571.9 130.8L1573.8 130.5L1575.8 130.3L1577.8 130.0L1579.8 129.7L1581.7 129.4L1583.7 129.1L1585.7 128.8L1587.7 128.5L1589.7 128.2L1591.6 128.0L1593.6 127.7L1595.6 127.4L1597.6 127.1L1599.5 126.8L1601.5 126.5L1603.5 126.3L1605.5 126.0L1607.5 125.7L1609.4 125.4L1611.4 125.2L1613.4 124.9L1615.4 124.6L1617.4 124.3L1619.3 124.0L1621.3 123.8L1623.3 123.5L1625.3 123.2L1627.3 123.0L1629.2 122.7L1631.2 122.4L1633.2 122.1L1635.2 121.9L1637.2 121.6L1639.1 121.3L1641.1 121.1L1643.1 120.8L1645.1 120.5L1647.1 120.3L1649.0 120.0L1651.0 119.8L1653.0 119.5L1655.0 119.2L1657.0 119.0L1659.0 118.7L1660.9 118.4L1662.9 118.2L1664.9 117.9L1666.9 117.7L1668.9 117.4L1670.9 117.2L1672.8 116.9L1674.8 116.6L1676.8 116.4L1678.8 116.1L1680.8 115.9L1682.8 115.6L1684.7 115.4L1686.7 115.1L1688.7 114.9L1690.7 114.6L1692.7 114.4L1694.7 114.1L1696.7 113.9L1698.6 113.6L1700.6 113.4L1702.6 113.1L1704.6 112.9L1706.6 112.7L1708.6 112.4L1710.6 112.2L1712.5 111.9L1714.5 111.7L1716.5 111.4L1718.5 111.2L1720.5 111.0L1722.5 110.7L1724.5 110.5L1726.5 110.3L1728.5 110.0L1730.4 109.8L1732.4 109.5L1734.4 109.3L1736.4 109.1L1738.4 108.8L1740.4 108.6L1742.4 108.4L1744.4 108.1L1746.4 107.9L1748.4 107.7L1750.3 107.4L1752.3 107.2L1754.3 107.0L1756.3 106.8L1758.3 106.5L1760.3 106.3L1762.3 106.1L1764.3 105.8L1766.3 105.6L1768.3 105.4L1770.3 105.2L1772.3 105.0L1774.3 104.7L1776.2 104.5L1778.2 104.3L1780.2 104.1L1782.2 103.8L1784.2 103.6L1786.2 103.4L1788.2 103.2L1790.2 103.0L1792.2 102.7L1794.2 102.5L1796.2 102.3L1798.2 102.1L1800.2 101.9L1802.2 101.7L1804.2 101.4L1806.2 101.2L1808.2 101.0L1810.2 100.8L1812.2 100.6L1814.2 100.4L1816.2 100.2L1818.2 100.0L1820.2 99.8L1822.2 99.5L1824.2 99.3L1826.2 99.1L1828.2 98.9L1830.2 98.7L1832.2 98.5L1834.2 98.3L1836.2 98.1L1838.2 97.9L1840.2 97.7L1842.2 97.5L1844.2 97.3L1846.2 97.1L1848.2 96.9L1850.2 96.7L1852.2 96.5L1854.2 96.3L1856.2 96.1L1858.2 95.9L1860.2 95.7L1862.2 95.5L1864.2 95.3L1866.2 95.1L1868.2 94.9L1870.2 94.7L1872.2 94.5L1874.2 94.3L1876.2 94.1"/>
</g>
<g fill="#C0C0C0" stroke="#000" stroke-width="2.3">
<circle cx="722.8" cy="664.1" r="14.3"/>
<circle cx="763.5" cy="694.5" r="14.3"/>
<circle cx="792.9" cy="730.4" r="14.3"/>
<circle cx="832.0" cy="757.8" r="14.3"/>
<circle cx="893.7" cy="818.7" r="14.3"/>
<circle cx="967.0" cy="961.8" r="14.3"/>
</g>
<g fill="#FFF" stroke="#000" stroke-width="4.4">
<circle cx="849.6" cy="433.6" r="13.3"/>
<circle cx="900.2" cy="439.2" r="13.3"/>
<circle cx="949.3" cy="458.4" r="13.3"/>
<circle cx="1008.5" cy="511.0" r="13.3"/>
<circle cx="1175.5" cy="555.0" r="13.3"/>
<circle cx="1300.2" cy="600.9" r="13.3"/>
</g>
<g font-family="'Liberation Sans', Arial, Helvetica, sans-serif" font-weight="bold" fill="#000">
<text x="173.7 223.6" y="109.0" font-size="96" clip-path="url(#c0)">10</text>
<text x="275.0" y="64.0" font-size="57">0</text>
<text x="154.7 204.7" y="258.9" font-size="96" clip-path="url(#c1)">10</text>
<text x="258.0 276.0" y="213.9" font-size="57" clip-path="url(#c2)">-1</text>
<text x="154.7 204.7" y="408.7" font-size="96" clip-path="url(#c3)">10</text>
<text x="258.0 275.0" y="363.7" font-size="57">-2</text>
<text x="154.7 204.7" y="558.6" font-size="96" clip-path="url(#c4)">10</text>
<text x="258.0 275.0" y="513.6" font-size="57">-3</text>
<text x="154.7 204.7" y="708.5" font-size="96" clip-path="url(#c5)">10</text>
<text x="258.0 275.0" y="663.5" font-size="57">-4</text>
<text x="154.7 204.7" y="858.4" font-size="96" clip-path="url(#c6)">10</text>
<text x="258.0 275.0" y="813.4" font-size="57">-5</text>
<text x="154.7 204.7" y="1008.2" font-size="96" clip-path="url(#c7)">10</text>
<text x="258.0 275.0" y="963.2" font-size="57">-6</text>
<text x="154.7 204.7" y="1158.1" font-size="96" clip-path="url(#c8)">10</text>
<text x="258.0 275.0" y="1113.1" font-size="57">-7</text>
<text x="154.7 204.7" y="1308.0" font-size="96" clip-path="url(#c9)">10</text>
<text x="258.0 275.0" y="1263.0" font-size="57">-8</text>
<text x="586.3" y="1480.0" font-size="96">2</text>
<text x="933.3" y="1480.0" font-size="96">3</text>
<text x="1179.5" y="1480.0" font-size="96">4</text>
<text x="1370.5" y="1480.0" font-size="96">5</text>
<text x="1526.5" y="1480.0" font-size="96">6</text>
<text x="1658.5" y="1480.0" font-size="96">7</text>
<text x="1772.7" y="1480.0" font-size="96">8</text>
<text x="1873.5" y="1480.0" font-size="96">9</text>
<text x="1939.5 1989.4" y="1480.0" font-size="96" clip-path="url(#c10)">10</text>
<text transform="translate(635.8 1593.7) scale(0.9726 1)" x="-7.5" y="0" font-size="107">Forward voltage (V)</text>
<text transform="translate(118.2 999.2) rotate(-90) scale(0.974 1)" x="-4" y="0" font-size="107">Current (A)</text>
<text x="1510.8 1550 1581.7 1607.3 1665 1690 1714.4" y="634.8" font-size="83.5">T (K) :</text>
</g>
<g stroke-width="9" stroke-linecap="round">
<path stroke="#FF0000" d="M1511.5 708.4H1690.5"/>
<path stroke="#FF00FF" d="M1511.5 809.2H1690.5"/>
<path stroke="#FF8000" d="M1511.5 909.9H1690.5"/>
<path stroke="#008080" d="M1511.5 1010.7H1690.5"/>
<path stroke="#008000" d="M1511.5 1111.4H1690.5"/>
<path stroke="#0000FF" d="M1511.5 1212.2H1690.5"/>
</g>
<g font-family="'Liberation Sans', Arial, Helvetica, sans-serif" font-weight="bold" fill="#000">
<text x="1712.3 1756.5 1800.7" y="735.7" font-size="82">300</text>
<text x="1712.3 1756.5 1800.7" y="836.5" font-size="82">250</text>
<text x="1712.3 1756.5 1800.7" y="937.2" font-size="82">200</text>
<text x="1715.3 1756.5 1800.7" y="1038.0" font-size="82" clip-path="url(#c11)">150</text>
<text x="1712.3 1756.5" y="1138.7" font-size="82">75</text>
<text x="1715.3 1756.5" y="1239.5" font-size="82" clip-path="url(#c12)">13</text>
</g>
</svg>
</body></html>
